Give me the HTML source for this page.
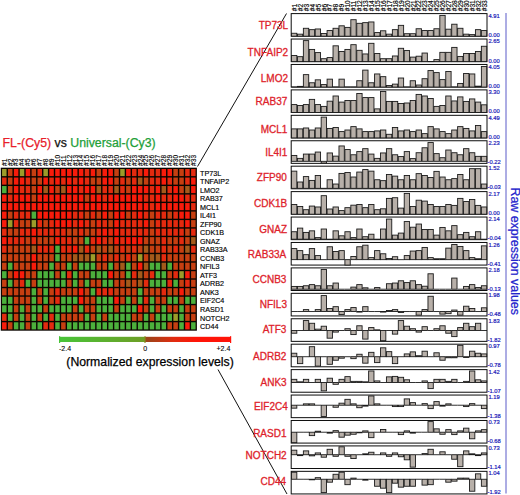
<!DOCTYPE html>
<html><head><meta charset="utf-8"><title>figure</title>
<style>html,body{margin:0;padding:0;background:#fff;}svg{display:block;}</style></head>
<body>
<svg width="520" height="495" viewBox="0 0 520 495" font-family="Liberation Sans, Arial, Helvetica, sans-serif">
<rect width="520" height="495" fill="#fff"/>
<line x1="197.5" y1="166.5" x2="286.5" y2="13.5" stroke="#111" stroke-width="1"/>
<line x1="218" y1="369.5" x2="287" y2="494" stroke="#111" stroke-width="1"/>
<rect x="0.75" y="167.70" width="196.15" height="163.00" fill="#0a0500"/>
<rect x="2.05" y="169.00" width="4.51" height="7.12" fill="#9c9c2a"/>
<rect x="7.96" y="169.00" width="4.51" height="7.12" fill="#c63f11"/>
<rect x="13.87" y="169.00" width="4.51" height="7.12" fill="#f81b0b"/>
<rect x="19.77" y="169.00" width="4.51" height="7.12" fill="#9c9c2a"/>
<rect x="25.68" y="169.00" width="4.51" height="7.12" fill="#f81b0b"/>
<rect x="31.59" y="169.00" width="4.51" height="7.12" fill="#c63f11"/>
<rect x="37.50" y="169.00" width="4.51" height="7.12" fill="#e42a0f"/>
<rect x="43.40" y="169.00" width="4.51" height="7.12" fill="#9c9c2a"/>
<rect x="49.31" y="169.00" width="4.51" height="7.12" fill="#f81b0b"/>
<rect x="55.22" y="169.00" width="4.51" height="7.12" fill="#f81b0b"/>
<rect x="61.13" y="169.00" width="4.51" height="7.12" fill="#f81b0b"/>
<rect x="67.03" y="169.00" width="4.51" height="7.12" fill="#f81b0b"/>
<rect x="72.94" y="169.00" width="4.51" height="7.12" fill="#f81b0b"/>
<rect x="78.85" y="169.00" width="4.51" height="7.12" fill="#f81b0b"/>
<rect x="84.76" y="169.00" width="4.51" height="7.12" fill="#e42a0f"/>
<rect x="90.66" y="169.00" width="4.51" height="7.12" fill="#f81b0b"/>
<rect x="96.57" y="169.00" width="4.51" height="7.12" fill="#c63f11"/>
<rect x="102.48" y="169.00" width="4.51" height="7.12" fill="#f81b0b"/>
<rect x="108.39" y="169.00" width="4.51" height="7.12" fill="#f81b0b"/>
<rect x="114.29" y="169.00" width="4.51" height="7.12" fill="#c63f11"/>
<rect x="120.20" y="169.00" width="4.51" height="7.12" fill="#9c9c2a"/>
<rect x="126.11" y="169.00" width="4.51" height="7.12" fill="#f81b0b"/>
<rect x="132.02" y="169.00" width="4.51" height="7.12" fill="#e42a0f"/>
<rect x="137.92" y="169.00" width="4.51" height="7.12" fill="#e42a0f"/>
<rect x="143.83" y="169.00" width="4.51" height="7.12" fill="#f81b0b"/>
<rect x="149.74" y="169.00" width="4.51" height="7.12" fill="#e42a0f"/>
<rect x="155.65" y="169.00" width="4.51" height="7.12" fill="#e42a0f"/>
<rect x="161.55" y="169.00" width="4.51" height="7.12" fill="#f81b0b"/>
<rect x="167.46" y="169.00" width="4.51" height="7.12" fill="#f81b0b"/>
<rect x="173.37" y="169.00" width="4.51" height="7.12" fill="#c63f11"/>
<rect x="179.28" y="169.00" width="4.51" height="7.12" fill="#c63f11"/>
<rect x="185.18" y="169.00" width="4.51" height="7.12" fill="#e42a0f"/>
<rect x="191.09" y="169.00" width="4.51" height="7.12" fill="#e42a0f"/>
<rect x="2.05" y="177.52" width="4.51" height="7.12" fill="#e42a0f"/>
<rect x="7.96" y="177.52" width="4.51" height="7.12" fill="#c63f11"/>
<rect x="13.87" y="177.52" width="4.51" height="7.12" fill="#f81b0b"/>
<rect x="19.77" y="177.52" width="4.51" height="7.12" fill="#f81b0b"/>
<rect x="25.68" y="177.52" width="4.51" height="7.12" fill="#e42a0f"/>
<rect x="31.59" y="177.52" width="4.51" height="7.12" fill="#c63f11"/>
<rect x="37.50" y="177.52" width="4.51" height="7.12" fill="#c63f11"/>
<rect x="43.40" y="177.52" width="4.51" height="7.12" fill="#f81b0b"/>
<rect x="49.31" y="177.52" width="4.51" height="7.12" fill="#e42a0f"/>
<rect x="55.22" y="177.52" width="4.51" height="7.12" fill="#f81b0b"/>
<rect x="61.13" y="177.52" width="4.51" height="7.12" fill="#e42a0f"/>
<rect x="67.03" y="177.52" width="4.51" height="7.12" fill="#f81b0b"/>
<rect x="72.94" y="177.52" width="4.51" height="7.12" fill="#e42a0f"/>
<rect x="78.85" y="177.52" width="4.51" height="7.12" fill="#f81b0b"/>
<rect x="84.76" y="177.52" width="4.51" height="7.12" fill="#e42a0f"/>
<rect x="90.66" y="177.52" width="4.51" height="7.12" fill="#c63f11"/>
<rect x="96.57" y="177.52" width="4.51" height="7.12" fill="#c63f11"/>
<rect x="102.48" y="177.52" width="4.51" height="7.12" fill="#f81b0b"/>
<rect x="108.39" y="177.52" width="4.51" height="7.12" fill="#f81b0b"/>
<rect x="114.29" y="177.52" width="4.51" height="7.12" fill="#c63f11"/>
<rect x="120.20" y="177.52" width="4.51" height="7.12" fill="#e42a0f"/>
<rect x="126.11" y="177.52" width="4.51" height="7.12" fill="#c63f11"/>
<rect x="132.02" y="177.52" width="4.51" height="7.12" fill="#e42a0f"/>
<rect x="137.92" y="177.52" width="4.51" height="7.12" fill="#a45a1b"/>
<rect x="143.83" y="177.52" width="4.51" height="7.12" fill="#c63f11"/>
<rect x="149.74" y="177.52" width="4.51" height="7.12" fill="#e42a0f"/>
<rect x="155.65" y="177.52" width="4.51" height="7.12" fill="#e42a0f"/>
<rect x="161.55" y="177.52" width="4.51" height="7.12" fill="#f81b0b"/>
<rect x="167.46" y="177.52" width="4.51" height="7.12" fill="#e42a0f"/>
<rect x="173.37" y="177.52" width="4.51" height="7.12" fill="#c63f11"/>
<rect x="179.28" y="177.52" width="4.51" height="7.12" fill="#c63f11"/>
<rect x="185.18" y="177.52" width="4.51" height="7.12" fill="#e42a0f"/>
<rect x="191.09" y="177.52" width="4.51" height="7.12" fill="#f81b0b"/>
<rect x="2.05" y="186.03" width="4.51" height="7.12" fill="#4cb03c"/>
<rect x="7.96" y="186.03" width="4.51" height="7.12" fill="#c63f11"/>
<rect x="13.87" y="186.03" width="4.51" height="7.12" fill="#f81b0b"/>
<rect x="19.77" y="186.03" width="4.51" height="7.12" fill="#e42a0f"/>
<rect x="25.68" y="186.03" width="4.51" height="7.12" fill="#e42a0f"/>
<rect x="31.59" y="186.03" width="4.51" height="7.12" fill="#c63f11"/>
<rect x="37.50" y="186.03" width="4.51" height="7.12" fill="#f81b0b"/>
<rect x="43.40" y="186.03" width="4.51" height="7.12" fill="#a45a1b"/>
<rect x="49.31" y="186.03" width="4.51" height="7.12" fill="#f81b0b"/>
<rect x="55.22" y="186.03" width="4.51" height="7.12" fill="#c63f11"/>
<rect x="61.13" y="186.03" width="4.51" height="7.12" fill="#a45a1b"/>
<rect x="67.03" y="186.03" width="4.51" height="7.12" fill="#f81b0b"/>
<rect x="72.94" y="186.03" width="4.51" height="7.12" fill="#f81b0b"/>
<rect x="78.85" y="186.03" width="4.51" height="7.12" fill="#e42a0f"/>
<rect x="84.76" y="186.03" width="4.51" height="7.12" fill="#f81b0b"/>
<rect x="90.66" y="186.03" width="4.51" height="7.12" fill="#f81b0b"/>
<rect x="96.57" y="186.03" width="4.51" height="7.12" fill="#a45a1b"/>
<rect x="102.48" y="186.03" width="4.51" height="7.12" fill="#e42a0f"/>
<rect x="108.39" y="186.03" width="4.51" height="7.12" fill="#e42a0f"/>
<rect x="114.29" y="186.03" width="4.51" height="7.12" fill="#a45a1b"/>
<rect x="120.20" y="186.03" width="4.51" height="7.12" fill="#e42a0f"/>
<rect x="126.11" y="186.03" width="4.51" height="7.12" fill="#c63f11"/>
<rect x="132.02" y="186.03" width="4.51" height="7.12" fill="#f81b0b"/>
<rect x="137.92" y="186.03" width="4.51" height="7.12" fill="#f81b0b"/>
<rect x="143.83" y="186.03" width="4.51" height="7.12" fill="#f81b0b"/>
<rect x="149.74" y="186.03" width="4.51" height="7.12" fill="#e42a0f"/>
<rect x="155.65" y="186.03" width="4.51" height="7.12" fill="#f81b0b"/>
<rect x="161.55" y="186.03" width="4.51" height="7.12" fill="#a45a1b"/>
<rect x="167.46" y="186.03" width="4.51" height="7.12" fill="#e42a0f"/>
<rect x="173.37" y="186.03" width="4.51" height="7.12" fill="#f81b0b"/>
<rect x="179.28" y="186.03" width="4.51" height="7.12" fill="#c63f11"/>
<rect x="185.18" y="186.03" width="4.51" height="7.12" fill="#a45a1b"/>
<rect x="191.09" y="186.03" width="4.51" height="7.12" fill="#f81b0b"/>
<rect x="2.05" y="194.55" width="4.51" height="7.12" fill="#f81b0b"/>
<rect x="7.96" y="194.55" width="4.51" height="7.12" fill="#e42a0f"/>
<rect x="13.87" y="194.55" width="4.51" height="7.12" fill="#f81b0b"/>
<rect x="19.77" y="194.55" width="4.51" height="7.12" fill="#f81b0b"/>
<rect x="25.68" y="194.55" width="4.51" height="7.12" fill="#f81b0b"/>
<rect x="31.59" y="194.55" width="4.51" height="7.12" fill="#c63f11"/>
<rect x="37.50" y="194.55" width="4.51" height="7.12" fill="#f81b0b"/>
<rect x="43.40" y="194.55" width="4.51" height="7.12" fill="#f81b0b"/>
<rect x="49.31" y="194.55" width="4.51" height="7.12" fill="#f81b0b"/>
<rect x="55.22" y="194.55" width="4.51" height="7.12" fill="#f81b0b"/>
<rect x="61.13" y="194.55" width="4.51" height="7.12" fill="#f81b0b"/>
<rect x="67.03" y="194.55" width="4.51" height="7.12" fill="#f81b0b"/>
<rect x="72.94" y="194.55" width="4.51" height="7.12" fill="#f81b0b"/>
<rect x="78.85" y="194.55" width="4.51" height="7.12" fill="#f81b0b"/>
<rect x="84.76" y="194.55" width="4.51" height="7.12" fill="#c63f11"/>
<rect x="90.66" y="194.55" width="4.51" height="7.12" fill="#f81b0b"/>
<rect x="96.57" y="194.55" width="4.51" height="7.12" fill="#f81b0b"/>
<rect x="102.48" y="194.55" width="4.51" height="7.12" fill="#e42a0f"/>
<rect x="108.39" y="194.55" width="4.51" height="7.12" fill="#f81b0b"/>
<rect x="114.29" y="194.55" width="4.51" height="7.12" fill="#f81b0b"/>
<rect x="120.20" y="194.55" width="4.51" height="7.12" fill="#f81b0b"/>
<rect x="126.11" y="194.55" width="4.51" height="7.12" fill="#f81b0b"/>
<rect x="132.02" y="194.55" width="4.51" height="7.12" fill="#f81b0b"/>
<rect x="137.92" y="194.55" width="4.51" height="7.12" fill="#f81b0b"/>
<rect x="143.83" y="194.55" width="4.51" height="7.12" fill="#e42a0f"/>
<rect x="149.74" y="194.55" width="4.51" height="7.12" fill="#e42a0f"/>
<rect x="155.65" y="194.55" width="4.51" height="7.12" fill="#f81b0b"/>
<rect x="161.55" y="194.55" width="4.51" height="7.12" fill="#e42a0f"/>
<rect x="167.46" y="194.55" width="4.51" height="7.12" fill="#e42a0f"/>
<rect x="173.37" y="194.55" width="4.51" height="7.12" fill="#f81b0b"/>
<rect x="179.28" y="194.55" width="4.51" height="7.12" fill="#f81b0b"/>
<rect x="185.18" y="194.55" width="4.51" height="7.12" fill="#e42a0f"/>
<rect x="191.09" y="194.55" width="4.51" height="7.12" fill="#e42a0f"/>
<rect x="2.05" y="203.06" width="4.51" height="7.12" fill="#f81b0b"/>
<rect x="7.96" y="203.06" width="4.51" height="7.12" fill="#f81b0b"/>
<rect x="13.87" y="203.06" width="4.51" height="7.12" fill="#f81b0b"/>
<rect x="19.77" y="203.06" width="4.51" height="7.12" fill="#f81b0b"/>
<rect x="25.68" y="203.06" width="4.51" height="7.12" fill="#f81b0b"/>
<rect x="31.59" y="203.06" width="4.51" height="7.12" fill="#f81b0b"/>
<rect x="37.50" y="203.06" width="4.51" height="7.12" fill="#f81b0b"/>
<rect x="43.40" y="203.06" width="4.51" height="7.12" fill="#f81b0b"/>
<rect x="49.31" y="203.06" width="4.51" height="7.12" fill="#f81b0b"/>
<rect x="55.22" y="203.06" width="4.51" height="7.12" fill="#f81b0b"/>
<rect x="61.13" y="203.06" width="4.51" height="7.12" fill="#f81b0b"/>
<rect x="67.03" y="203.06" width="4.51" height="7.12" fill="#f81b0b"/>
<rect x="72.94" y="203.06" width="4.51" height="7.12" fill="#f81b0b"/>
<rect x="78.85" y="203.06" width="4.51" height="7.12" fill="#f81b0b"/>
<rect x="84.76" y="203.06" width="4.51" height="7.12" fill="#f81b0b"/>
<rect x="90.66" y="203.06" width="4.51" height="7.12" fill="#f81b0b"/>
<rect x="96.57" y="203.06" width="4.51" height="7.12" fill="#f81b0b"/>
<rect x="102.48" y="203.06" width="4.51" height="7.12" fill="#f81b0b"/>
<rect x="108.39" y="203.06" width="4.51" height="7.12" fill="#f81b0b"/>
<rect x="114.29" y="203.06" width="4.51" height="7.12" fill="#f81b0b"/>
<rect x="120.20" y="203.06" width="4.51" height="7.12" fill="#f81b0b"/>
<rect x="126.11" y="203.06" width="4.51" height="7.12" fill="#f81b0b"/>
<rect x="132.02" y="203.06" width="4.51" height="7.12" fill="#f81b0b"/>
<rect x="137.92" y="203.06" width="4.51" height="7.12" fill="#f81b0b"/>
<rect x="143.83" y="203.06" width="4.51" height="7.12" fill="#f81b0b"/>
<rect x="149.74" y="203.06" width="4.51" height="7.12" fill="#e42a0f"/>
<rect x="155.65" y="203.06" width="4.51" height="7.12" fill="#f81b0b"/>
<rect x="161.55" y="203.06" width="4.51" height="7.12" fill="#f81b0b"/>
<rect x="167.46" y="203.06" width="4.51" height="7.12" fill="#f81b0b"/>
<rect x="173.37" y="203.06" width="4.51" height="7.12" fill="#f81b0b"/>
<rect x="179.28" y="203.06" width="4.51" height="7.12" fill="#f81b0b"/>
<rect x="185.18" y="203.06" width="4.51" height="7.12" fill="#f81b0b"/>
<rect x="191.09" y="203.06" width="4.51" height="7.12" fill="#e42a0f"/>
<rect x="2.05" y="211.58" width="4.51" height="7.12" fill="#f81b0b"/>
<rect x="7.96" y="211.58" width="4.51" height="7.12" fill="#c63f11"/>
<rect x="13.87" y="211.58" width="4.51" height="7.12" fill="#e42a0f"/>
<rect x="19.77" y="211.58" width="4.51" height="7.12" fill="#e42a0f"/>
<rect x="25.68" y="211.58" width="4.51" height="7.12" fill="#e42a0f"/>
<rect x="31.59" y="211.58" width="4.51" height="7.12" fill="#4cb03c"/>
<rect x="37.50" y="211.58" width="4.51" height="7.12" fill="#f81b0b"/>
<rect x="43.40" y="211.58" width="4.51" height="7.12" fill="#f81b0b"/>
<rect x="49.31" y="211.58" width="4.51" height="7.12" fill="#f81b0b"/>
<rect x="55.22" y="211.58" width="4.51" height="7.12" fill="#f81b0b"/>
<rect x="61.13" y="211.58" width="4.51" height="7.12" fill="#f81b0b"/>
<rect x="67.03" y="211.58" width="4.51" height="7.12" fill="#f81b0b"/>
<rect x="72.94" y="211.58" width="4.51" height="7.12" fill="#e42a0f"/>
<rect x="78.85" y="211.58" width="4.51" height="7.12" fill="#e42a0f"/>
<rect x="84.76" y="211.58" width="4.51" height="7.12" fill="#c63f11"/>
<rect x="90.66" y="211.58" width="4.51" height="7.12" fill="#e42a0f"/>
<rect x="96.57" y="211.58" width="4.51" height="7.12" fill="#c63f11"/>
<rect x="102.48" y="211.58" width="4.51" height="7.12" fill="#f81b0b"/>
<rect x="108.39" y="211.58" width="4.51" height="7.12" fill="#c63f11"/>
<rect x="114.29" y="211.58" width="4.51" height="7.12" fill="#f81b0b"/>
<rect x="120.20" y="211.58" width="4.51" height="7.12" fill="#f81b0b"/>
<rect x="126.11" y="211.58" width="4.51" height="7.12" fill="#c63f11"/>
<rect x="132.02" y="211.58" width="4.51" height="7.12" fill="#e42a0f"/>
<rect x="137.92" y="211.58" width="4.51" height="7.12" fill="#f81b0b"/>
<rect x="143.83" y="211.58" width="4.51" height="7.12" fill="#e42a0f"/>
<rect x="149.74" y="211.58" width="4.51" height="7.12" fill="#c63f11"/>
<rect x="155.65" y="211.58" width="4.51" height="7.12" fill="#e42a0f"/>
<rect x="161.55" y="211.58" width="4.51" height="7.12" fill="#e42a0f"/>
<rect x="167.46" y="211.58" width="4.51" height="7.12" fill="#c63f11"/>
<rect x="173.37" y="211.58" width="4.51" height="7.12" fill="#e42a0f"/>
<rect x="179.28" y="211.58" width="4.51" height="7.12" fill="#f81b0b"/>
<rect x="185.18" y="211.58" width="4.51" height="7.12" fill="#f81b0b"/>
<rect x="191.09" y="211.58" width="4.51" height="7.12" fill="#c63f11"/>
<rect x="2.05" y="220.09" width="4.51" height="7.12" fill="#f81b0b"/>
<rect x="7.96" y="220.09" width="4.51" height="7.12" fill="#9c9c2a"/>
<rect x="13.87" y="220.09" width="4.51" height="7.12" fill="#e42a0f"/>
<rect x="19.77" y="220.09" width="4.51" height="7.12" fill="#c63f11"/>
<rect x="25.68" y="220.09" width="4.51" height="7.12" fill="#c63f11"/>
<rect x="31.59" y="220.09" width="4.51" height="7.12" fill="#9c9c2a"/>
<rect x="37.50" y="220.09" width="4.51" height="7.12" fill="#e42a0f"/>
<rect x="43.40" y="220.09" width="4.51" height="7.12" fill="#c63f11"/>
<rect x="49.31" y="220.09" width="4.51" height="7.12" fill="#e42a0f"/>
<rect x="55.22" y="220.09" width="4.51" height="7.12" fill="#f81b0b"/>
<rect x="61.13" y="220.09" width="4.51" height="7.12" fill="#f81b0b"/>
<rect x="67.03" y="220.09" width="4.51" height="7.12" fill="#f81b0b"/>
<rect x="72.94" y="220.09" width="4.51" height="7.12" fill="#e42a0f"/>
<rect x="78.85" y="220.09" width="4.51" height="7.12" fill="#f81b0b"/>
<rect x="84.76" y="220.09" width="4.51" height="7.12" fill="#e42a0f"/>
<rect x="90.66" y="220.09" width="4.51" height="7.12" fill="#c63f11"/>
<rect x="96.57" y="220.09" width="4.51" height="7.12" fill="#e42a0f"/>
<rect x="102.48" y="220.09" width="4.51" height="7.12" fill="#e42a0f"/>
<rect x="108.39" y="220.09" width="4.51" height="7.12" fill="#c63f11"/>
<rect x="114.29" y="220.09" width="4.51" height="7.12" fill="#f81b0b"/>
<rect x="120.20" y="220.09" width="4.51" height="7.12" fill="#e42a0f"/>
<rect x="126.11" y="220.09" width="4.51" height="7.12" fill="#e42a0f"/>
<rect x="132.02" y="220.09" width="4.51" height="7.12" fill="#e42a0f"/>
<rect x="137.92" y="220.09" width="4.51" height="7.12" fill="#e42a0f"/>
<rect x="143.83" y="220.09" width="4.51" height="7.12" fill="#f81b0b"/>
<rect x="149.74" y="220.09" width="4.51" height="7.12" fill="#c63f11"/>
<rect x="155.65" y="220.09" width="4.51" height="7.12" fill="#e42a0f"/>
<rect x="161.55" y="220.09" width="4.51" height="7.12" fill="#e42a0f"/>
<rect x="167.46" y="220.09" width="4.51" height="7.12" fill="#e42a0f"/>
<rect x="173.37" y="220.09" width="4.51" height="7.12" fill="#e42a0f"/>
<rect x="179.28" y="220.09" width="4.51" height="7.12" fill="#e42a0f"/>
<rect x="185.18" y="220.09" width="4.51" height="7.12" fill="#f81b0b"/>
<rect x="191.09" y="220.09" width="4.51" height="7.12" fill="#c63f11"/>
<rect x="2.05" y="228.61" width="4.51" height="7.12" fill="#e42a0f"/>
<rect x="7.96" y="228.61" width="4.51" height="7.12" fill="#c63f11"/>
<rect x="13.87" y="228.61" width="4.51" height="7.12" fill="#c63f11"/>
<rect x="19.77" y="228.61" width="4.51" height="7.12" fill="#e42a0f"/>
<rect x="25.68" y="228.61" width="4.51" height="7.12" fill="#e42a0f"/>
<rect x="31.59" y="228.61" width="4.51" height="7.12" fill="#f81b0b"/>
<rect x="37.50" y="228.61" width="4.51" height="7.12" fill="#e42a0f"/>
<rect x="43.40" y="228.61" width="4.51" height="7.12" fill="#e42a0f"/>
<rect x="49.31" y="228.61" width="4.51" height="7.12" fill="#e42a0f"/>
<rect x="55.22" y="228.61" width="4.51" height="7.12" fill="#e42a0f"/>
<rect x="61.13" y="228.61" width="4.51" height="7.12" fill="#e42a0f"/>
<rect x="67.03" y="228.61" width="4.51" height="7.12" fill="#c63f11"/>
<rect x="72.94" y="228.61" width="4.51" height="7.12" fill="#c63f11"/>
<rect x="78.85" y="228.61" width="4.51" height="7.12" fill="#e42a0f"/>
<rect x="84.76" y="228.61" width="4.51" height="7.12" fill="#c63f11"/>
<rect x="90.66" y="228.61" width="4.51" height="7.12" fill="#c63f11"/>
<rect x="96.57" y="228.61" width="4.51" height="7.12" fill="#e42a0f"/>
<rect x="102.48" y="228.61" width="4.51" height="7.12" fill="#f81b0b"/>
<rect x="108.39" y="228.61" width="4.51" height="7.12" fill="#e42a0f"/>
<rect x="114.29" y="228.61" width="4.51" height="7.12" fill="#f81b0b"/>
<rect x="120.20" y="228.61" width="4.51" height="7.12" fill="#e42a0f"/>
<rect x="126.11" y="228.61" width="4.51" height="7.12" fill="#e42a0f"/>
<rect x="132.02" y="228.61" width="4.51" height="7.12" fill="#e42a0f"/>
<rect x="137.92" y="228.61" width="4.51" height="7.12" fill="#e42a0f"/>
<rect x="143.83" y="228.61" width="4.51" height="7.12" fill="#e42a0f"/>
<rect x="149.74" y="228.61" width="4.51" height="7.12" fill="#c63f11"/>
<rect x="155.65" y="228.61" width="4.51" height="7.12" fill="#e42a0f"/>
<rect x="161.55" y="228.61" width="4.51" height="7.12" fill="#e42a0f"/>
<rect x="167.46" y="228.61" width="4.51" height="7.12" fill="#e42a0f"/>
<rect x="173.37" y="228.61" width="4.51" height="7.12" fill="#e42a0f"/>
<rect x="179.28" y="228.61" width="4.51" height="7.12" fill="#e42a0f"/>
<rect x="185.18" y="228.61" width="4.51" height="7.12" fill="#c63f11"/>
<rect x="191.09" y="228.61" width="4.51" height="7.12" fill="#e42a0f"/>
<rect x="2.05" y="237.13" width="4.51" height="7.12" fill="#f81b0b"/>
<rect x="7.96" y="237.13" width="4.51" height="7.12" fill="#e42a0f"/>
<rect x="13.87" y="237.13" width="4.51" height="7.12" fill="#e42a0f"/>
<rect x="19.77" y="237.13" width="4.51" height="7.12" fill="#e42a0f"/>
<rect x="25.68" y="237.13" width="4.51" height="7.12" fill="#c63f11"/>
<rect x="31.59" y="237.13" width="4.51" height="7.12" fill="#e42a0f"/>
<rect x="37.50" y="237.13" width="4.51" height="7.12" fill="#c63f11"/>
<rect x="43.40" y="237.13" width="4.51" height="7.12" fill="#c63f11"/>
<rect x="49.31" y="237.13" width="4.51" height="7.12" fill="#c63f11"/>
<rect x="55.22" y="237.13" width="4.51" height="7.12" fill="#f81b0b"/>
<rect x="61.13" y="237.13" width="4.51" height="7.12" fill="#e42a0f"/>
<rect x="67.03" y="237.13" width="4.51" height="7.12" fill="#e42a0f"/>
<rect x="72.94" y="237.13" width="4.51" height="7.12" fill="#c63f11"/>
<rect x="78.85" y="237.13" width="4.51" height="7.12" fill="#c63f11"/>
<rect x="84.76" y="237.13" width="4.51" height="7.12" fill="#4cb03c"/>
<rect x="90.66" y="237.13" width="4.51" height="7.12" fill="#e42a0f"/>
<rect x="96.57" y="237.13" width="4.51" height="7.12" fill="#f81b0b"/>
<rect x="102.48" y="237.13" width="4.51" height="7.12" fill="#e42a0f"/>
<rect x="108.39" y="237.13" width="4.51" height="7.12" fill="#c63f11"/>
<rect x="114.29" y="237.13" width="4.51" height="7.12" fill="#f81b0b"/>
<rect x="120.20" y="237.13" width="4.51" height="7.12" fill="#e42a0f"/>
<rect x="126.11" y="237.13" width="4.51" height="7.12" fill="#f81b0b"/>
<rect x="132.02" y="237.13" width="4.51" height="7.12" fill="#f81b0b"/>
<rect x="137.92" y="237.13" width="4.51" height="7.12" fill="#f81b0b"/>
<rect x="143.83" y="237.13" width="4.51" height="7.12" fill="#c63f11"/>
<rect x="149.74" y="237.13" width="4.51" height="7.12" fill="#c63f11"/>
<rect x="155.65" y="237.13" width="4.51" height="7.12" fill="#c63f11"/>
<rect x="161.55" y="237.13" width="4.51" height="7.12" fill="#e42a0f"/>
<rect x="167.46" y="237.13" width="4.51" height="7.12" fill="#c63f11"/>
<rect x="173.37" y="237.13" width="4.51" height="7.12" fill="#c63f11"/>
<rect x="179.28" y="237.13" width="4.51" height="7.12" fill="#e42a0f"/>
<rect x="185.18" y="237.13" width="4.51" height="7.12" fill="#c63f11"/>
<rect x="191.09" y="237.13" width="4.51" height="7.12" fill="#a45a1b"/>
<rect x="2.05" y="245.64" width="4.51" height="7.12" fill="#e42a0f"/>
<rect x="7.96" y="245.64" width="4.51" height="7.12" fill="#c63f11"/>
<rect x="13.87" y="245.64" width="4.51" height="7.12" fill="#c63f11"/>
<rect x="19.77" y="245.64" width="4.51" height="7.12" fill="#c63f11"/>
<rect x="25.68" y="245.64" width="4.51" height="7.12" fill="#c63f11"/>
<rect x="31.59" y="245.64" width="4.51" height="7.12" fill="#a45a1b"/>
<rect x="37.50" y="245.64" width="4.51" height="7.12" fill="#e42a0f"/>
<rect x="43.40" y="245.64" width="4.51" height="7.12" fill="#e42a0f"/>
<rect x="49.31" y="245.64" width="4.51" height="7.12" fill="#e42a0f"/>
<rect x="55.22" y="245.64" width="4.51" height="7.12" fill="#4cb03c"/>
<rect x="61.13" y="245.64" width="4.51" height="7.12" fill="#e42a0f"/>
<rect x="67.03" y="245.64" width="4.51" height="7.12" fill="#e42a0f"/>
<rect x="72.94" y="245.64" width="4.51" height="7.12" fill="#f81b0b"/>
<rect x="78.85" y="245.64" width="4.51" height="7.12" fill="#a45a1b"/>
<rect x="84.76" y="245.64" width="4.51" height="7.12" fill="#e42a0f"/>
<rect x="90.66" y="245.64" width="4.51" height="7.12" fill="#c63f11"/>
<rect x="96.57" y="245.64" width="4.51" height="7.12" fill="#a45a1b"/>
<rect x="102.48" y="245.64" width="4.51" height="7.12" fill="#c63f11"/>
<rect x="108.39" y="245.64" width="4.51" height="7.12" fill="#a45a1b"/>
<rect x="114.29" y="245.64" width="4.51" height="7.12" fill="#c63f11"/>
<rect x="120.20" y="245.64" width="4.51" height="7.12" fill="#e42a0f"/>
<rect x="126.11" y="245.64" width="4.51" height="7.12" fill="#c63f11"/>
<rect x="132.02" y="245.64" width="4.51" height="7.12" fill="#e42a0f"/>
<rect x="137.92" y="245.64" width="4.51" height="7.12" fill="#c63f11"/>
<rect x="143.83" y="245.64" width="4.51" height="7.12" fill="#a45a1b"/>
<rect x="149.74" y="245.64" width="4.51" height="7.12" fill="#c63f11"/>
<rect x="155.65" y="245.64" width="4.51" height="7.12" fill="#c63f11"/>
<rect x="161.55" y="245.64" width="4.51" height="7.12" fill="#e42a0f"/>
<rect x="167.46" y="245.64" width="4.51" height="7.12" fill="#c63f11"/>
<rect x="173.37" y="245.64" width="4.51" height="7.12" fill="#e42a0f"/>
<rect x="179.28" y="245.64" width="4.51" height="7.12" fill="#c63f11"/>
<rect x="185.18" y="245.64" width="4.51" height="7.12" fill="#a45a1b"/>
<rect x="191.09" y="245.64" width="4.51" height="7.12" fill="#e42a0f"/>
<rect x="2.05" y="254.16" width="4.51" height="7.12" fill="#c63f11"/>
<rect x="7.96" y="254.16" width="4.51" height="7.12" fill="#c63f11"/>
<rect x="13.87" y="254.16" width="4.51" height="7.12" fill="#c63f11"/>
<rect x="19.77" y="254.16" width="4.51" height="7.12" fill="#c63f11"/>
<rect x="25.68" y="254.16" width="4.51" height="7.12" fill="#c63f11"/>
<rect x="31.59" y="254.16" width="4.51" height="7.12" fill="#f81b0b"/>
<rect x="37.50" y="254.16" width="4.51" height="7.12" fill="#c63f11"/>
<rect x="43.40" y="254.16" width="4.51" height="7.12" fill="#c63f11"/>
<rect x="49.31" y="254.16" width="4.51" height="7.12" fill="#c63f11"/>
<rect x="55.22" y="254.16" width="4.51" height="7.12" fill="#4cb03c"/>
<rect x="61.13" y="254.16" width="4.51" height="7.12" fill="#c63f11"/>
<rect x="67.03" y="254.16" width="4.51" height="7.12" fill="#c63f11"/>
<rect x="72.94" y="254.16" width="4.51" height="7.12" fill="#a45a1b"/>
<rect x="78.85" y="254.16" width="4.51" height="7.12" fill="#a45a1b"/>
<rect x="84.76" y="254.16" width="4.51" height="7.12" fill="#a45a1b"/>
<rect x="90.66" y="254.16" width="4.51" height="7.12" fill="#9c9c2a"/>
<rect x="96.57" y="254.16" width="4.51" height="7.12" fill="#c63f11"/>
<rect x="102.48" y="254.16" width="4.51" height="7.12" fill="#e42a0f"/>
<rect x="108.39" y="254.16" width="4.51" height="7.12" fill="#c63f11"/>
<rect x="114.29" y="254.16" width="4.51" height="7.12" fill="#e42a0f"/>
<rect x="120.20" y="254.16" width="4.51" height="7.12" fill="#c63f11"/>
<rect x="126.11" y="254.16" width="4.51" height="7.12" fill="#e42a0f"/>
<rect x="132.02" y="254.16" width="4.51" height="7.12" fill="#c63f11"/>
<rect x="137.92" y="254.16" width="4.51" height="7.12" fill="#9c9c2a"/>
<rect x="143.83" y="254.16" width="4.51" height="7.12" fill="#c63f11"/>
<rect x="149.74" y="254.16" width="4.51" height="7.12" fill="#a45a1b"/>
<rect x="155.65" y="254.16" width="4.51" height="7.12" fill="#a45a1b"/>
<rect x="161.55" y="254.16" width="4.51" height="7.12" fill="#e42a0f"/>
<rect x="167.46" y="254.16" width="4.51" height="7.12" fill="#c63f11"/>
<rect x="173.37" y="254.16" width="4.51" height="7.12" fill="#c63f11"/>
<rect x="179.28" y="254.16" width="4.51" height="7.12" fill="#c63f11"/>
<rect x="185.18" y="254.16" width="4.51" height="7.12" fill="#c63f11"/>
<rect x="191.09" y="254.16" width="4.51" height="7.12" fill="#c63f11"/>
<rect x="2.05" y="262.67" width="4.51" height="7.12" fill="#c63f11"/>
<rect x="7.96" y="262.67" width="4.51" height="7.12" fill="#4cb03c"/>
<rect x="13.87" y="262.67" width="4.51" height="7.12" fill="#c63f11"/>
<rect x="19.77" y="262.67" width="4.51" height="7.12" fill="#c63f11"/>
<rect x="25.68" y="262.67" width="4.51" height="7.12" fill="#c63f11"/>
<rect x="31.59" y="262.67" width="4.51" height="7.12" fill="#f81b0b"/>
<rect x="37.50" y="262.67" width="4.51" height="7.12" fill="#c63f11"/>
<rect x="43.40" y="262.67" width="4.51" height="7.12" fill="#c63f11"/>
<rect x="49.31" y="262.67" width="4.51" height="7.12" fill="#4cb03c"/>
<rect x="55.22" y="262.67" width="4.51" height="7.12" fill="#c63f11"/>
<rect x="61.13" y="262.67" width="4.51" height="7.12" fill="#c63f11"/>
<rect x="67.03" y="262.67" width="4.51" height="7.12" fill="#4cb03c"/>
<rect x="72.94" y="262.67" width="4.51" height="7.12" fill="#c63f11"/>
<rect x="78.85" y="262.67" width="4.51" height="7.12" fill="#4cb03c"/>
<rect x="84.76" y="262.67" width="4.51" height="7.12" fill="#4cb03c"/>
<rect x="90.66" y="262.67" width="4.51" height="7.12" fill="#4cb03c"/>
<rect x="96.57" y="262.67" width="4.51" height="7.12" fill="#c63f11"/>
<rect x="102.48" y="262.67" width="4.51" height="7.12" fill="#c63f11"/>
<rect x="108.39" y="262.67" width="4.51" height="7.12" fill="#4cb03c"/>
<rect x="114.29" y="262.67" width="4.51" height="7.12" fill="#c63f11"/>
<rect x="120.20" y="262.67" width="4.51" height="7.12" fill="#a45a1b"/>
<rect x="126.11" y="262.67" width="4.51" height="7.12" fill="#4cb03c"/>
<rect x="132.02" y="262.67" width="4.51" height="7.12" fill="#c63f11"/>
<rect x="137.92" y="262.67" width="4.51" height="7.12" fill="#f81b0b"/>
<rect x="143.83" y="262.67" width="4.51" height="7.12" fill="#a45a1b"/>
<rect x="149.74" y="262.67" width="4.51" height="7.12" fill="#4cb03c"/>
<rect x="155.65" y="262.67" width="4.51" height="7.12" fill="#4cb03c"/>
<rect x="161.55" y="262.67" width="4.51" height="7.12" fill="#a45a1b"/>
<rect x="167.46" y="262.67" width="4.51" height="7.12" fill="#4cb03c"/>
<rect x="173.37" y="262.67" width="4.51" height="7.12" fill="#c63f11"/>
<rect x="179.28" y="262.67" width="4.51" height="7.12" fill="#c63f11"/>
<rect x="185.18" y="262.67" width="4.51" height="7.12" fill="#c63f11"/>
<rect x="191.09" y="262.67" width="4.51" height="7.12" fill="#c63f11"/>
<rect x="2.05" y="271.19" width="4.51" height="7.12" fill="#4cb03c"/>
<rect x="7.96" y="271.19" width="4.51" height="7.12" fill="#c63f11"/>
<rect x="13.87" y="271.19" width="4.51" height="7.12" fill="#f81b0b"/>
<rect x="19.77" y="271.19" width="4.51" height="7.12" fill="#f81b0b"/>
<rect x="25.68" y="271.19" width="4.51" height="7.12" fill="#c63f11"/>
<rect x="31.59" y="271.19" width="4.51" height="7.12" fill="#c63f11"/>
<rect x="37.50" y="271.19" width="4.51" height="7.12" fill="#4cb03c"/>
<rect x="43.40" y="271.19" width="4.51" height="7.12" fill="#4cb03c"/>
<rect x="49.31" y="271.19" width="4.51" height="7.12" fill="#4cb03c"/>
<rect x="55.22" y="271.19" width="4.51" height="7.12" fill="#c63f11"/>
<rect x="61.13" y="271.19" width="4.51" height="7.12" fill="#4cb03c"/>
<rect x="67.03" y="271.19" width="4.51" height="7.12" fill="#e42a0f"/>
<rect x="72.94" y="271.19" width="4.51" height="7.12" fill="#4cb03c"/>
<rect x="78.85" y="271.19" width="4.51" height="7.12" fill="#c63f11"/>
<rect x="84.76" y="271.19" width="4.51" height="7.12" fill="#c63f11"/>
<rect x="90.66" y="271.19" width="4.51" height="7.12" fill="#4cb03c"/>
<rect x="96.57" y="271.19" width="4.51" height="7.12" fill="#4cb03c"/>
<rect x="102.48" y="271.19" width="4.51" height="7.12" fill="#4cb03c"/>
<rect x="108.39" y="271.19" width="4.51" height="7.12" fill="#f81b0b"/>
<rect x="114.29" y="271.19" width="4.51" height="7.12" fill="#c63f11"/>
<rect x="120.20" y="271.19" width="4.51" height="7.12" fill="#c63f11"/>
<rect x="126.11" y="271.19" width="4.51" height="7.12" fill="#4cb03c"/>
<rect x="132.02" y="271.19" width="4.51" height="7.12" fill="#e42a0f"/>
<rect x="137.92" y="271.19" width="4.51" height="7.12" fill="#a45a1b"/>
<rect x="143.83" y="271.19" width="4.51" height="7.12" fill="#c63f11"/>
<rect x="149.74" y="271.19" width="4.51" height="7.12" fill="#e42a0f"/>
<rect x="155.65" y="271.19" width="4.51" height="7.12" fill="#4cb03c"/>
<rect x="161.55" y="271.19" width="4.51" height="7.12" fill="#4cb03c"/>
<rect x="167.46" y="271.19" width="4.51" height="7.12" fill="#c63f11"/>
<rect x="173.37" y="271.19" width="4.51" height="7.12" fill="#e42a0f"/>
<rect x="179.28" y="271.19" width="4.51" height="7.12" fill="#9c9c2a"/>
<rect x="185.18" y="271.19" width="4.51" height="7.12" fill="#f81b0b"/>
<rect x="191.09" y="271.19" width="4.51" height="7.12" fill="#c63f11"/>
<rect x="2.05" y="279.71" width="4.51" height="7.12" fill="#c63f11"/>
<rect x="7.96" y="279.71" width="4.51" height="7.12" fill="#4cb03c"/>
<rect x="13.87" y="279.71" width="4.51" height="7.12" fill="#c63f11"/>
<rect x="19.77" y="279.71" width="4.51" height="7.12" fill="#e42a0f"/>
<rect x="25.68" y="279.71" width="4.51" height="7.12" fill="#4cb03c"/>
<rect x="31.59" y="279.71" width="4.51" height="7.12" fill="#c63f11"/>
<rect x="37.50" y="279.71" width="4.51" height="7.12" fill="#4cb03c"/>
<rect x="43.40" y="279.71" width="4.51" height="7.12" fill="#4cb03c"/>
<rect x="49.31" y="279.71" width="4.51" height="7.12" fill="#4cb03c"/>
<rect x="55.22" y="279.71" width="4.51" height="7.12" fill="#4cb03c"/>
<rect x="61.13" y="279.71" width="4.51" height="7.12" fill="#4cb03c"/>
<rect x="67.03" y="279.71" width="4.51" height="7.12" fill="#c63f11"/>
<rect x="72.94" y="279.71" width="4.51" height="7.12" fill="#4cb03c"/>
<rect x="78.85" y="279.71" width="4.51" height="7.12" fill="#c63f11"/>
<rect x="84.76" y="279.71" width="4.51" height="7.12" fill="#4cb03c"/>
<rect x="90.66" y="279.71" width="4.51" height="7.12" fill="#c63f11"/>
<rect x="96.57" y="279.71" width="4.51" height="7.12" fill="#c63f11"/>
<rect x="102.48" y="279.71" width="4.51" height="7.12" fill="#4cb03c"/>
<rect x="108.39" y="279.71" width="4.51" height="7.12" fill="#4cb03c"/>
<rect x="114.29" y="279.71" width="4.51" height="7.12" fill="#c63f11"/>
<rect x="120.20" y="279.71" width="4.51" height="7.12" fill="#c63f11"/>
<rect x="126.11" y="279.71" width="4.51" height="7.12" fill="#a45a1b"/>
<rect x="132.02" y="279.71" width="4.51" height="7.12" fill="#c63f11"/>
<rect x="137.92" y="279.71" width="4.51" height="7.12" fill="#a45a1b"/>
<rect x="143.83" y="279.71" width="4.51" height="7.12" fill="#e42a0f"/>
<rect x="149.74" y="279.71" width="4.51" height="7.12" fill="#4cb03c"/>
<rect x="155.65" y="279.71" width="4.51" height="7.12" fill="#4cb03c"/>
<rect x="161.55" y="279.71" width="4.51" height="7.12" fill="#4cb03c"/>
<rect x="167.46" y="279.71" width="4.51" height="7.12" fill="#e42a0f"/>
<rect x="173.37" y="279.71" width="4.51" height="7.12" fill="#4cb03c"/>
<rect x="179.28" y="279.71" width="4.51" height="7.12" fill="#c63f11"/>
<rect x="185.18" y="279.71" width="4.51" height="7.12" fill="#e42a0f"/>
<rect x="191.09" y="279.71" width="4.51" height="7.12" fill="#c63f11"/>
<rect x="2.05" y="288.22" width="4.51" height="7.12" fill="#c63f11"/>
<rect x="7.96" y="288.22" width="4.51" height="7.12" fill="#c63f11"/>
<rect x="13.87" y="288.22" width="4.51" height="7.12" fill="#c63f11"/>
<rect x="19.77" y="288.22" width="4.51" height="7.12" fill="#c63f11"/>
<rect x="25.68" y="288.22" width="4.51" height="7.12" fill="#c63f11"/>
<rect x="31.59" y="288.22" width="4.51" height="7.12" fill="#4cb03c"/>
<rect x="37.50" y="288.22" width="4.51" height="7.12" fill="#c63f11"/>
<rect x="43.40" y="288.22" width="4.51" height="7.12" fill="#4cb03c"/>
<rect x="49.31" y="288.22" width="4.51" height="7.12" fill="#c63f11"/>
<rect x="55.22" y="288.22" width="4.51" height="7.12" fill="#e42a0f"/>
<rect x="61.13" y="288.22" width="4.51" height="7.12" fill="#c63f11"/>
<rect x="67.03" y="288.22" width="4.51" height="7.12" fill="#c63f11"/>
<rect x="72.94" y="288.22" width="4.51" height="7.12" fill="#c63f11"/>
<rect x="78.85" y="288.22" width="4.51" height="7.12" fill="#f81b0b"/>
<rect x="84.76" y="288.22" width="4.51" height="7.12" fill="#c63f11"/>
<rect x="90.66" y="288.22" width="4.51" height="7.12" fill="#4cb03c"/>
<rect x="96.57" y="288.22" width="4.51" height="7.12" fill="#e42a0f"/>
<rect x="102.48" y="288.22" width="4.51" height="7.12" fill="#e42a0f"/>
<rect x="108.39" y="288.22" width="4.51" height="7.12" fill="#e42a0f"/>
<rect x="114.29" y="288.22" width="4.51" height="7.12" fill="#c63f11"/>
<rect x="120.20" y="288.22" width="4.51" height="7.12" fill="#c63f11"/>
<rect x="126.11" y="288.22" width="4.51" height="7.12" fill="#c63f11"/>
<rect x="132.02" y="288.22" width="4.51" height="7.12" fill="#c63f11"/>
<rect x="137.92" y="288.22" width="4.51" height="7.12" fill="#4cb03c"/>
<rect x="143.83" y="288.22" width="4.51" height="7.12" fill="#c63f11"/>
<rect x="149.74" y="288.22" width="4.51" height="7.12" fill="#c63f11"/>
<rect x="155.65" y="288.22" width="4.51" height="7.12" fill="#c63f11"/>
<rect x="161.55" y="288.22" width="4.51" height="7.12" fill="#e42a0f"/>
<rect x="167.46" y="288.22" width="4.51" height="7.12" fill="#c63f11"/>
<rect x="173.37" y="288.22" width="4.51" height="7.12" fill="#c63f11"/>
<rect x="179.28" y="288.22" width="4.51" height="7.12" fill="#f81b0b"/>
<rect x="185.18" y="288.22" width="4.51" height="7.12" fill="#c63f11"/>
<rect x="191.09" y="288.22" width="4.51" height="7.12" fill="#c63f11"/>
<rect x="2.05" y="296.74" width="4.51" height="7.12" fill="#4cb03c"/>
<rect x="7.96" y="296.74" width="4.51" height="7.12" fill="#4cb03c"/>
<rect x="13.87" y="296.74" width="4.51" height="7.12" fill="#c63f11"/>
<rect x="19.77" y="296.74" width="4.51" height="7.12" fill="#c63f11"/>
<rect x="25.68" y="296.74" width="4.51" height="7.12" fill="#c63f11"/>
<rect x="31.59" y="296.74" width="4.51" height="7.12" fill="#4cb03c"/>
<rect x="37.50" y="296.74" width="4.51" height="7.12" fill="#c63f11"/>
<rect x="43.40" y="296.74" width="4.51" height="7.12" fill="#4cb03c"/>
<rect x="49.31" y="296.74" width="4.51" height="7.12" fill="#c63f11"/>
<rect x="55.22" y="296.74" width="4.51" height="7.12" fill="#e42a0f"/>
<rect x="61.13" y="296.74" width="4.51" height="7.12" fill="#4cb03c"/>
<rect x="67.03" y="296.74" width="4.51" height="7.12" fill="#4cb03c"/>
<rect x="72.94" y="296.74" width="4.51" height="7.12" fill="#4cb03c"/>
<rect x="78.85" y="296.74" width="4.51" height="7.12" fill="#f81b0b"/>
<rect x="84.76" y="296.74" width="4.51" height="7.12" fill="#c63f11"/>
<rect x="90.66" y="296.74" width="4.51" height="7.12" fill="#c63f11"/>
<rect x="96.57" y="296.74" width="4.51" height="7.12" fill="#4cb03c"/>
<rect x="102.48" y="296.74" width="4.51" height="7.12" fill="#4cb03c"/>
<rect x="108.39" y="296.74" width="4.51" height="7.12" fill="#4cb03c"/>
<rect x="114.29" y="296.74" width="4.51" height="7.12" fill="#f81b0b"/>
<rect x="120.20" y="296.74" width="4.51" height="7.12" fill="#c63f11"/>
<rect x="126.11" y="296.74" width="4.51" height="7.12" fill="#4cb03c"/>
<rect x="132.02" y="296.74" width="4.51" height="7.12" fill="#c63f11"/>
<rect x="137.92" y="296.74" width="4.51" height="7.12" fill="#4cb03c"/>
<rect x="143.83" y="296.74" width="4.51" height="7.12" fill="#e42a0f"/>
<rect x="149.74" y="296.74" width="4.51" height="7.12" fill="#4cb03c"/>
<rect x="155.65" y="296.74" width="4.51" height="7.12" fill="#c63f11"/>
<rect x="161.55" y="296.74" width="4.51" height="7.12" fill="#c63f11"/>
<rect x="167.46" y="296.74" width="4.51" height="7.12" fill="#4cb03c"/>
<rect x="173.37" y="296.74" width="4.51" height="7.12" fill="#4cb03c"/>
<rect x="179.28" y="296.74" width="4.51" height="7.12" fill="#c63f11"/>
<rect x="185.18" y="296.74" width="4.51" height="7.12" fill="#4cb03c"/>
<rect x="191.09" y="296.74" width="4.51" height="7.12" fill="#4cb03c"/>
<rect x="2.05" y="305.25" width="4.51" height="7.12" fill="#4cb03c"/>
<rect x="7.96" y="305.25" width="4.51" height="7.12" fill="#4cb03c"/>
<rect x="13.87" y="305.25" width="4.51" height="7.12" fill="#c63f11"/>
<rect x="19.77" y="305.25" width="4.51" height="7.12" fill="#4cb03c"/>
<rect x="25.68" y="305.25" width="4.51" height="7.12" fill="#c63f11"/>
<rect x="31.59" y="305.25" width="4.51" height="7.12" fill="#4cb03c"/>
<rect x="37.50" y="305.25" width="4.51" height="7.12" fill="#4cb03c"/>
<rect x="43.40" y="305.25" width="4.51" height="7.12" fill="#c63f11"/>
<rect x="49.31" y="305.25" width="4.51" height="7.12" fill="#4cb03c"/>
<rect x="55.22" y="305.25" width="4.51" height="7.12" fill="#4cb03c"/>
<rect x="61.13" y="305.25" width="4.51" height="7.12" fill="#4cb03c"/>
<rect x="67.03" y="305.25" width="4.51" height="7.12" fill="#4cb03c"/>
<rect x="72.94" y="305.25" width="4.51" height="7.12" fill="#c63f11"/>
<rect x="78.85" y="305.25" width="4.51" height="7.12" fill="#4cb03c"/>
<rect x="84.76" y="305.25" width="4.51" height="7.12" fill="#c63f11"/>
<rect x="90.66" y="305.25" width="4.51" height="7.12" fill="#c63f11"/>
<rect x="96.57" y="305.25" width="4.51" height="7.12" fill="#4cb03c"/>
<rect x="102.48" y="305.25" width="4.51" height="7.12" fill="#4cb03c"/>
<rect x="108.39" y="305.25" width="4.51" height="7.12" fill="#4cb03c"/>
<rect x="114.29" y="305.25" width="4.51" height="7.12" fill="#c63f11"/>
<rect x="120.20" y="305.25" width="4.51" height="7.12" fill="#4cb03c"/>
<rect x="126.11" y="305.25" width="4.51" height="7.12" fill="#4cb03c"/>
<rect x="132.02" y="305.25" width="4.51" height="7.12" fill="#4cb03c"/>
<rect x="137.92" y="305.25" width="4.51" height="7.12" fill="#f81b0b"/>
<rect x="143.83" y="305.25" width="4.51" height="7.12" fill="#c63f11"/>
<rect x="149.74" y="305.25" width="4.51" height="7.12" fill="#4cb03c"/>
<rect x="155.65" y="305.25" width="4.51" height="7.12" fill="#c63f11"/>
<rect x="161.55" y="305.25" width="4.51" height="7.12" fill="#4cb03c"/>
<rect x="167.46" y="305.25" width="4.51" height="7.12" fill="#c63f11"/>
<rect x="173.37" y="305.25" width="4.51" height="7.12" fill="#c63f11"/>
<rect x="179.28" y="305.25" width="4.51" height="7.12" fill="#4cb03c"/>
<rect x="185.18" y="305.25" width="4.51" height="7.12" fill="#c63f11"/>
<rect x="191.09" y="305.25" width="4.51" height="7.12" fill="#c63f11"/>
<rect x="2.05" y="313.77" width="4.51" height="7.12" fill="#e42a0f"/>
<rect x="7.96" y="313.77" width="4.51" height="7.12" fill="#4cb03c"/>
<rect x="13.87" y="313.77" width="4.51" height="7.12" fill="#c63f11"/>
<rect x="19.77" y="313.77" width="4.51" height="7.12" fill="#4cb03c"/>
<rect x="25.68" y="313.77" width="4.51" height="7.12" fill="#c63f11"/>
<rect x="31.59" y="313.77" width="4.51" height="7.12" fill="#4cb03c"/>
<rect x="37.50" y="313.77" width="4.51" height="7.12" fill="#c63f11"/>
<rect x="43.40" y="313.77" width="4.51" height="7.12" fill="#4cb03c"/>
<rect x="49.31" y="313.77" width="4.51" height="7.12" fill="#e42a0f"/>
<rect x="55.22" y="313.77" width="4.51" height="7.12" fill="#4cb03c"/>
<rect x="61.13" y="313.77" width="4.51" height="7.12" fill="#c63f11"/>
<rect x="67.03" y="313.77" width="4.51" height="7.12" fill="#c63f11"/>
<rect x="72.94" y="313.77" width="4.51" height="7.12" fill="#c63f11"/>
<rect x="78.85" y="313.77" width="4.51" height="7.12" fill="#c63f11"/>
<rect x="84.76" y="313.77" width="4.51" height="7.12" fill="#4cb03c"/>
<rect x="90.66" y="313.77" width="4.51" height="7.12" fill="#c63f11"/>
<rect x="96.57" y="313.77" width="4.51" height="7.12" fill="#4cb03c"/>
<rect x="102.48" y="313.77" width="4.51" height="7.12" fill="#c63f11"/>
<rect x="108.39" y="313.77" width="4.51" height="7.12" fill="#4cb03c"/>
<rect x="114.29" y="313.77" width="4.51" height="7.12" fill="#4cb03c"/>
<rect x="120.20" y="313.77" width="4.51" height="7.12" fill="#4cb03c"/>
<rect x="126.11" y="313.77" width="4.51" height="7.12" fill="#4cb03c"/>
<rect x="132.02" y="313.77" width="4.51" height="7.12" fill="#c63f11"/>
<rect x="137.92" y="313.77" width="4.51" height="7.12" fill="#c63f11"/>
<rect x="143.83" y="313.77" width="4.51" height="7.12" fill="#4cb03c"/>
<rect x="149.74" y="313.77" width="4.51" height="7.12" fill="#c63f11"/>
<rect x="155.65" y="313.77" width="4.51" height="7.12" fill="#4cb03c"/>
<rect x="161.55" y="313.77" width="4.51" height="7.12" fill="#4cb03c"/>
<rect x="167.46" y="313.77" width="4.51" height="7.12" fill="#4cb03c"/>
<rect x="173.37" y="313.77" width="4.51" height="7.12" fill="#9c9c2a"/>
<rect x="179.28" y="313.77" width="4.51" height="7.12" fill="#4cb03c"/>
<rect x="185.18" y="313.77" width="4.51" height="7.12" fill="#c63f11"/>
<rect x="191.09" y="313.77" width="4.51" height="7.12" fill="#c63f11"/>
<rect x="2.05" y="322.28" width="4.51" height="7.12" fill="#f81b0b"/>
<rect x="7.96" y="322.28" width="4.51" height="7.12" fill="#c63f11"/>
<rect x="13.87" y="322.28" width="4.51" height="7.12" fill="#4cb03c"/>
<rect x="19.77" y="322.28" width="4.51" height="7.12" fill="#4cb03c"/>
<rect x="25.68" y="322.28" width="4.51" height="7.12" fill="#c63f11"/>
<rect x="31.59" y="322.28" width="4.51" height="7.12" fill="#4cb03c"/>
<rect x="37.50" y="322.28" width="4.51" height="7.12" fill="#4cb03c"/>
<rect x="43.40" y="322.28" width="4.51" height="7.12" fill="#e42a0f"/>
<rect x="49.31" y="322.28" width="4.51" height="7.12" fill="#e42a0f"/>
<rect x="55.22" y="322.28" width="4.51" height="7.12" fill="#4cb03c"/>
<rect x="61.13" y="322.28" width="4.51" height="7.12" fill="#c63f11"/>
<rect x="67.03" y="322.28" width="4.51" height="7.12" fill="#4cb03c"/>
<rect x="72.94" y="322.28" width="4.51" height="7.12" fill="#4cb03c"/>
<rect x="78.85" y="322.28" width="4.51" height="7.12" fill="#4cb03c"/>
<rect x="84.76" y="322.28" width="4.51" height="7.12" fill="#4cb03c"/>
<rect x="90.66" y="322.28" width="4.51" height="7.12" fill="#4cb03c"/>
<rect x="96.57" y="322.28" width="4.51" height="7.12" fill="#4cb03c"/>
<rect x="102.48" y="322.28" width="4.51" height="7.12" fill="#4cb03c"/>
<rect x="108.39" y="322.28" width="4.51" height="7.12" fill="#4cb03c"/>
<rect x="114.29" y="322.28" width="4.51" height="7.12" fill="#4cb03c"/>
<rect x="120.20" y="322.28" width="4.51" height="7.12" fill="#4cb03c"/>
<rect x="126.11" y="322.28" width="4.51" height="7.12" fill="#4cb03c"/>
<rect x="132.02" y="322.28" width="4.51" height="7.12" fill="#4cb03c"/>
<rect x="137.92" y="322.28" width="4.51" height="7.12" fill="#4cb03c"/>
<rect x="143.83" y="322.28" width="4.51" height="7.12" fill="#4cb03c"/>
<rect x="149.74" y="322.28" width="4.51" height="7.12" fill="#4cb03c"/>
<rect x="155.65" y="322.28" width="4.51" height="7.12" fill="#4cb03c"/>
<rect x="161.55" y="322.28" width="4.51" height="7.12" fill="#4cb03c"/>
<rect x="167.46" y="322.28" width="4.51" height="7.12" fill="#c63f11"/>
<rect x="173.37" y="322.28" width="4.51" height="7.12" fill="#c63f11"/>
<rect x="179.28" y="322.28" width="4.51" height="7.12" fill="#4cb03c"/>
<rect x="185.18" y="322.28" width="4.51" height="7.12" fill="#f81b0b"/>
<rect x="191.09" y="322.28" width="4.51" height="7.12" fill="#4cb03c"/>
<text transform="translate(6.65,165.9) rotate(-90)" font-size="6.6" fill="#000" stroke="#000" stroke-width="0.15">#1</text>
<text transform="translate(12.56,165.9) rotate(-90)" font-size="6.6" fill="#000" stroke="#000" stroke-width="0.15">#2</text>
<text transform="translate(18.47,165.9) rotate(-90)" font-size="6.6" fill="#000" stroke="#000" stroke-width="0.15">#3</text>
<text transform="translate(24.38,165.9) rotate(-90)" font-size="6.6" fill="#000" stroke="#000" stroke-width="0.15">#4</text>
<text transform="translate(30.28,165.9) rotate(-90)" font-size="6.6" fill="#000" stroke="#000" stroke-width="0.15">#5</text>
<text transform="translate(36.19,165.9) rotate(-90)" font-size="6.6" fill="#000" stroke="#000" stroke-width="0.15">#6</text>
<text transform="translate(42.10,165.9) rotate(-90)" font-size="6.6" fill="#000" stroke="#000" stroke-width="0.15">#7</text>
<text transform="translate(48.01,165.9) rotate(-90)" font-size="6.6" fill="#000" stroke="#000" stroke-width="0.15">#8</text>
<text transform="translate(53.91,165.9) rotate(-90)" font-size="6.6" fill="#000" stroke="#000" stroke-width="0.15">#9</text>
<text transform="translate(59.82,165.9) rotate(-90)" font-size="6.6" fill="#000" stroke="#000" stroke-width="0.15">#10</text>
<text transform="translate(65.73,165.9) rotate(-90)" font-size="6.6" fill="#000" stroke="#000" stroke-width="0.15">#11</text>
<text transform="translate(71.64,165.9) rotate(-90)" font-size="6.6" fill="#000" stroke="#000" stroke-width="0.15">#12</text>
<text transform="translate(77.54,165.9) rotate(-90)" font-size="6.6" fill="#000" stroke="#000" stroke-width="0.15">#13</text>
<text transform="translate(83.45,165.9) rotate(-90)" font-size="6.6" fill="#000" stroke="#000" stroke-width="0.15">#14</text>
<text transform="translate(89.36,165.9) rotate(-90)" font-size="6.6" fill="#000" stroke="#000" stroke-width="0.15">#15</text>
<text transform="translate(95.27,165.9) rotate(-90)" font-size="6.6" fill="#000" stroke="#000" stroke-width="0.15">#16</text>
<text transform="translate(101.17,165.9) rotate(-90)" font-size="6.6" fill="#000" stroke="#000" stroke-width="0.15">#17</text>
<text transform="translate(107.08,165.9) rotate(-90)" font-size="6.6" fill="#000" stroke="#000" stroke-width="0.15">#18</text>
<text transform="translate(112.99,165.9) rotate(-90)" font-size="6.6" fill="#000" stroke="#000" stroke-width="0.15">#19</text>
<text transform="translate(118.90,165.9) rotate(-90)" font-size="6.6" fill="#000" stroke="#000" stroke-width="0.15">#20</text>
<text transform="translate(124.81,165.9) rotate(-90)" font-size="6.6" fill="#000" stroke="#000" stroke-width="0.15">#21</text>
<text transform="translate(130.71,165.9) rotate(-90)" font-size="6.6" fill="#000" stroke="#000" stroke-width="0.15">#22</text>
<text transform="translate(136.62,165.9) rotate(-90)" font-size="6.6" fill="#000" stroke="#000" stroke-width="0.15">#23</text>
<text transform="translate(142.53,165.9) rotate(-90)" font-size="6.6" fill="#000" stroke="#000" stroke-width="0.15">#24</text>
<text transform="translate(148.44,165.9) rotate(-90)" font-size="6.6" fill="#000" stroke="#000" stroke-width="0.15">#25</text>
<text transform="translate(154.34,165.9) rotate(-90)" font-size="6.6" fill="#000" stroke="#000" stroke-width="0.15">#26</text>
<text transform="translate(160.25,165.9) rotate(-90)" font-size="6.6" fill="#000" stroke="#000" stroke-width="0.15">#27</text>
<text transform="translate(166.16,165.9) rotate(-90)" font-size="6.6" fill="#000" stroke="#000" stroke-width="0.15">#28</text>
<text transform="translate(172.07,165.9) rotate(-90)" font-size="6.6" fill="#000" stroke="#000" stroke-width="0.15">#29</text>
<text transform="translate(177.97,165.9) rotate(-90)" font-size="6.6" fill="#000" stroke="#000" stroke-width="0.15">#30</text>
<text transform="translate(183.88,165.9) rotate(-90)" font-size="6.6" fill="#000" stroke="#000" stroke-width="0.15">#31</text>
<text transform="translate(189.79,165.9) rotate(-90)" font-size="6.6" fill="#000" stroke="#000" stroke-width="0.15">#32</text>
<text transform="translate(195.70,165.9) rotate(-90)" font-size="6.6" fill="#000" stroke="#000" stroke-width="0.15">#33</text>
<text x="200" y="175.50" font-size="7.2" fill="#000" stroke="#000" stroke-width="0.15">TP73L</text>
<text x="200" y="184.03" font-size="7.2" fill="#000" stroke="#000" stroke-width="0.15">TNFAIP2</text>
<text x="200" y="192.56" font-size="7.2" fill="#000" stroke="#000" stroke-width="0.15">LMO2</text>
<text x="200" y="201.09" font-size="7.2" fill="#000" stroke="#000" stroke-width="0.15">RAB37</text>
<text x="200" y="209.62" font-size="7.2" fill="#000" stroke="#000" stroke-width="0.15">MCL1</text>
<text x="200" y="218.15" font-size="7.2" fill="#000" stroke="#000" stroke-width="0.15">IL4I1</text>
<text x="200" y="226.68" font-size="7.2" fill="#000" stroke="#000" stroke-width="0.15">ZFP90</text>
<text x="200" y="235.21" font-size="7.2" fill="#000" stroke="#000" stroke-width="0.15">CDK1B</text>
<text x="200" y="243.74" font-size="7.2" fill="#000" stroke="#000" stroke-width="0.15">GNAZ</text>
<text x="200" y="252.27" font-size="7.2" fill="#000" stroke="#000" stroke-width="0.15">RAB33A</text>
<text x="200" y="260.80" font-size="7.2" fill="#000" stroke="#000" stroke-width="0.15">CCNB3</text>
<text x="200" y="269.33" font-size="7.2" fill="#000" stroke="#000" stroke-width="0.15">NFIL3</text>
<text x="200" y="277.86" font-size="7.2" fill="#000" stroke="#000" stroke-width="0.15">ATF3</text>
<text x="200" y="286.39" font-size="7.2" fill="#000" stroke="#000" stroke-width="0.15">ADRB2</text>
<text x="200" y="294.92" font-size="7.2" fill="#000" stroke="#000" stroke-width="0.15">ANK3</text>
<text x="200" y="303.45" font-size="7.2" fill="#000" stroke="#000" stroke-width="0.15">EIF2C4</text>
<text x="200" y="311.98" font-size="7.2" fill="#000" stroke="#000" stroke-width="0.15">RASD1</text>
<text x="200" y="320.51" font-size="7.2" fill="#000" stroke="#000" stroke-width="0.15">NOTCH2</text>
<text x="200" y="329.04" font-size="7.2" fill="#000" stroke="#000" stroke-width="0.15">CD44</text>
<text x="2.6" y="147.2" font-size="12.3"><tspan fill="#e8202a" stroke="#e8202a" stroke-width="0.25">FL-(Cy5)</tspan><tspan fill="#111" stroke="#111" stroke-width="0.25"> vs </tspan><tspan fill="#22a038" stroke="#22a038" stroke-width="0.25">Universal-(Cy3)</tspan></text>
<defs><linearGradient id="gl" x1="0" x2="1"><stop offset="0" stop-color="#48c438"/><stop offset="1" stop-color="#6e9e26"/></linearGradient><linearGradient id="gr" x1="0" x2="1"><stop offset="0" stop-color="#96461a"/><stop offset="0.33" stop-color="#e02c10"/><stop offset="0.6" stop-color="#ff1408"/><stop offset="1" stop-color="#ff1408"/></linearGradient></defs>
<rect x="59.5" y="336.8" width="85.5" height="5.2" fill="url(#gl)"/>
<rect x="145" y="336.8" width="85.8" height="5.2" fill="url(#gr)"/>
<rect x="59" y="336.2" width="1.2" height="6.8" fill="#48c438"/>
<rect x="144.4" y="336.2" width="1.2" height="6.8" fill="#8a8a20"/>
<rect x="230" y="336.2" width="1.2" height="6.8" fill="#ff1208"/>
<text x="59" y="351.2" font-size="7" fill="#000" stroke="#000" stroke-width="0.1">-2.4</text>
<text x="143.3" y="351.2" font-size="7" fill="#000" stroke="#000" stroke-width="0.1">0</text>
<text x="216.5" y="351.2" font-size="7" fill="#000" stroke="#000" stroke-width="0.1">+2.4</text>
<text x="66.3" y="366.4" font-size="12.25" fill="#000" stroke="#000" stroke-width="0.25">(Normalized expression levels)</text>
<text transform="translate(296.87,11.3) rotate(-90) scale(0.89,1)" font-size="7.5" fill="#000" stroke="#000" stroke-width="0.15">#1</text>
<text transform="translate(302.80,11.3) rotate(-90) scale(0.89,1)" font-size="7.5" fill="#000" stroke="#000" stroke-width="0.15">#2</text>
<text transform="translate(308.73,11.3) rotate(-90) scale(0.89,1)" font-size="7.5" fill="#000" stroke="#000" stroke-width="0.15">#3</text>
<text transform="translate(314.67,11.3) rotate(-90) scale(0.89,1)" font-size="7.5" fill="#000" stroke="#000" stroke-width="0.15">#4</text>
<text transform="translate(320.60,11.3) rotate(-90) scale(0.89,1)" font-size="7.5" fill="#000" stroke="#000" stroke-width="0.15">#5</text>
<text transform="translate(326.53,11.3) rotate(-90) scale(0.89,1)" font-size="7.5" fill="#000" stroke="#000" stroke-width="0.15">#6</text>
<text transform="translate(332.47,11.3) rotate(-90) scale(0.89,1)" font-size="7.5" fill="#000" stroke="#000" stroke-width="0.15">#7</text>
<text transform="translate(338.40,11.3) rotate(-90) scale(0.89,1)" font-size="7.5" fill="#000" stroke="#000" stroke-width="0.15">#8</text>
<text transform="translate(344.33,11.3) rotate(-90) scale(0.89,1)" font-size="7.5" fill="#000" stroke="#000" stroke-width="0.15">#9</text>
<text transform="translate(350.27,11.3) rotate(-90) scale(0.89,1)" font-size="7.5" fill="#000" stroke="#000" stroke-width="0.15">#10</text>
<text transform="translate(356.20,11.3) rotate(-90) scale(0.89,1)" font-size="7.5" fill="#000" stroke="#000" stroke-width="0.15">#11</text>
<text transform="translate(362.13,11.3) rotate(-90) scale(0.89,1)" font-size="7.5" fill="#000" stroke="#000" stroke-width="0.15">#12</text>
<text transform="translate(368.07,11.3) rotate(-90) scale(0.89,1)" font-size="7.5" fill="#000" stroke="#000" stroke-width="0.15">#13</text>
<text transform="translate(374.00,11.3) rotate(-90) scale(0.89,1)" font-size="7.5" fill="#000" stroke="#000" stroke-width="0.15">#14</text>
<text transform="translate(379.93,11.3) rotate(-90) scale(0.89,1)" font-size="7.5" fill="#000" stroke="#000" stroke-width="0.15">#15</text>
<text transform="translate(385.87,11.3) rotate(-90) scale(0.89,1)" font-size="7.5" fill="#000" stroke="#000" stroke-width="0.15">#16</text>
<text transform="translate(391.80,11.3) rotate(-90) scale(0.89,1)" font-size="7.5" fill="#000" stroke="#000" stroke-width="0.15">#17</text>
<text transform="translate(397.73,11.3) rotate(-90) scale(0.89,1)" font-size="7.5" fill="#000" stroke="#000" stroke-width="0.15">#18</text>
<text transform="translate(403.67,11.3) rotate(-90) scale(0.89,1)" font-size="7.5" fill="#000" stroke="#000" stroke-width="0.15">#19</text>
<text transform="translate(409.60,11.3) rotate(-90) scale(0.89,1)" font-size="7.5" fill="#000" stroke="#000" stroke-width="0.15">#20</text>
<text transform="translate(415.53,11.3) rotate(-90) scale(0.89,1)" font-size="7.5" fill="#000" stroke="#000" stroke-width="0.15">#21</text>
<text transform="translate(421.47,11.3) rotate(-90) scale(0.89,1)" font-size="7.5" fill="#000" stroke="#000" stroke-width="0.15">#22</text>
<text transform="translate(427.40,11.3) rotate(-90) scale(0.89,1)" font-size="7.5" fill="#000" stroke="#000" stroke-width="0.15">#23</text>
<text transform="translate(433.33,11.3) rotate(-90) scale(0.89,1)" font-size="7.5" fill="#000" stroke="#000" stroke-width="0.15">#24</text>
<text transform="translate(439.27,11.3) rotate(-90) scale(0.89,1)" font-size="7.5" fill="#000" stroke="#000" stroke-width="0.15">#25</text>
<text transform="translate(445.20,11.3) rotate(-90) scale(0.89,1)" font-size="7.5" fill="#000" stroke="#000" stroke-width="0.15">#26</text>
<text transform="translate(451.13,11.3) rotate(-90) scale(0.89,1)" font-size="7.5" fill="#000" stroke="#000" stroke-width="0.15">#27</text>
<text transform="translate(457.07,11.3) rotate(-90) scale(0.89,1)" font-size="7.5" fill="#000" stroke="#000" stroke-width="0.15">#28</text>
<text transform="translate(463.00,11.3) rotate(-90) scale(0.89,1)" font-size="7.5" fill="#000" stroke="#000" stroke-width="0.15">#29</text>
<text transform="translate(468.93,11.3) rotate(-90) scale(0.89,1)" font-size="7.5" fill="#000" stroke="#000" stroke-width="0.15">#30</text>
<text transform="translate(474.87,11.3) rotate(-90) scale(0.89,1)" font-size="7.5" fill="#000" stroke="#000" stroke-width="0.15">#31</text>
<text transform="translate(480.80,11.3) rotate(-90) scale(0.89,1)" font-size="7.5" fill="#000" stroke="#000" stroke-width="0.15">#32</text>
<text transform="translate(486.73,11.3) rotate(-90) scale(0.89,1)" font-size="7.5" fill="#000" stroke="#000" stroke-width="0.15">#33</text>
<rect x="291.20" y="13.60" width="195.80" height="22.6" fill="#fff" stroke="#0c0c0c" stroke-width="1"/>
<rect x="291.50" y="33.26" width="5.33" height="2.94" fill="#b8b0a9" stroke="#1a1a1a" stroke-width="0.9"/>
<rect x="297.43" y="34.17" width="5.33" height="2.03" fill="#b8b0a9" stroke="#1a1a1a" stroke-width="0.9"/>
<rect x="303.37" y="28.29" width="5.33" height="7.91" fill="#b8b0a9" stroke="#1a1a1a" stroke-width="0.9"/>
<rect x="309.30" y="29.65" width="5.33" height="6.55" fill="#b8b0a9" stroke="#1a1a1a" stroke-width="0.9"/>
<rect x="315.23" y="28.97" width="5.33" height="7.23" fill="#b8b0a9" stroke="#1a1a1a" stroke-width="0.9"/>
<rect x="321.17" y="33.49" width="5.33" height="2.71" fill="#b8b0a9" stroke="#1a1a1a" stroke-width="0.9"/>
<rect x="327.10" y="30.55" width="5.33" height="5.65" fill="#b8b0a9" stroke="#1a1a1a" stroke-width="0.9"/>
<rect x="333.03" y="28.29" width="5.33" height="7.91" fill="#b8b0a9" stroke="#1a1a1a" stroke-width="0.9"/>
<rect x="338.97" y="25.80" width="5.33" height="10.40" fill="#b8b0a9" stroke="#1a1a1a" stroke-width="0.9"/>
<rect x="344.90" y="27.39" width="5.33" height="8.81" fill="#b8b0a9" stroke="#1a1a1a" stroke-width="0.9"/>
<rect x="350.83" y="19.70" width="5.33" height="16.50" fill="#b8b0a9" stroke="#1a1a1a" stroke-width="0.9"/>
<rect x="356.77" y="23.32" width="5.33" height="12.88" fill="#b8b0a9" stroke="#1a1a1a" stroke-width="0.9"/>
<rect x="362.70" y="22.64" width="5.33" height="13.56" fill="#b8b0a9" stroke="#1a1a1a" stroke-width="0.9"/>
<rect x="368.63" y="21.96" width="5.33" height="14.24" fill="#b8b0a9" stroke="#1a1a1a" stroke-width="0.9"/>
<rect x="374.57" y="32.58" width="5.33" height="3.62" fill="#b8b0a9" stroke="#1a1a1a" stroke-width="0.9"/>
<rect x="380.50" y="30.78" width="5.33" height="5.42" fill="#b8b0a9" stroke="#1a1a1a" stroke-width="0.9"/>
<rect x="386.43" y="34.17" width="5.33" height="2.03" fill="#b8b0a9" stroke="#1a1a1a" stroke-width="0.9"/>
<rect x="392.37" y="29.65" width="5.33" height="6.55" fill="#b8b0a9" stroke="#1a1a1a" stroke-width="0.9"/>
<rect x="398.30" y="25.35" width="5.33" height="10.85" fill="#b8b0a9" stroke="#1a1a1a" stroke-width="0.9"/>
<rect x="404.23" y="33.71" width="5.33" height="2.49" fill="#b8b0a9" stroke="#1a1a1a" stroke-width="0.9"/>
<rect x="410.17" y="33.71" width="5.33" height="2.49" fill="#b8b0a9" stroke="#1a1a1a" stroke-width="0.9"/>
<rect x="416.10" y="28.74" width="5.33" height="7.46" fill="#b8b0a9" stroke="#1a1a1a" stroke-width="0.9"/>
<rect x="422.03" y="30.55" width="5.33" height="5.65" fill="#b8b0a9" stroke="#1a1a1a" stroke-width="0.9"/>
<rect x="427.97" y="30.55" width="5.33" height="5.65" fill="#b8b0a9" stroke="#1a1a1a" stroke-width="0.9"/>
<rect x="433.90" y="28.74" width="5.33" height="7.46" fill="#b8b0a9" stroke="#1a1a1a" stroke-width="0.9"/>
<rect x="439.83" y="15.41" width="5.33" height="20.79" fill="#b8b0a9" stroke="#1a1a1a" stroke-width="0.9"/>
<rect x="445.77" y="29.19" width="5.33" height="7.01" fill="#b8b0a9" stroke="#1a1a1a" stroke-width="0.9"/>
<rect x="451.70" y="24.22" width="5.33" height="11.98" fill="#b8b0a9" stroke="#1a1a1a" stroke-width="0.9"/>
<rect x="457.63" y="28.29" width="5.33" height="7.91" fill="#b8b0a9" stroke="#1a1a1a" stroke-width="0.9"/>
<rect x="463.57" y="34.17" width="5.33" height="2.03" fill="#b8b0a9" stroke="#1a1a1a" stroke-width="0.9"/>
<rect x="469.50" y="34.62" width="5.33" height="1.58" fill="#b8b0a9" stroke="#1a1a1a" stroke-width="0.9"/>
<rect x="475.43" y="29.65" width="5.33" height="6.55" fill="#b8b0a9" stroke="#1a1a1a" stroke-width="0.9"/>
<rect x="481.37" y="30.55" width="5.33" height="5.65" fill="#b8b0a9" stroke="#1a1a1a" stroke-width="0.9"/>
<text x="288.2" y="28.8" font-size="10" fill="#de1f2c" stroke="#de1f2c" stroke-width="0.3" text-anchor="end">TP73L</text>
<text x="488.4" y="18.10" font-size="5.8" fill="#2020b8" stroke="#2020b8" stroke-width="0.2">4.91</text>
<text x="488.4" y="37.20" font-size="5.8" fill="#2020b8" stroke="#2020b8" stroke-width="0.2">0.00</text>
<rect x="291.20" y="39.03" width="195.80" height="22.6" fill="#fff" stroke="#0c0c0c" stroke-width="1"/>
<rect x="291.50" y="55.53" width="5.33" height="6.10" fill="#b8b0a9" stroke="#1a1a1a" stroke-width="0.9"/>
<rect x="297.43" y="56.66" width="5.33" height="4.97" fill="#b8b0a9" stroke="#1a1a1a" stroke-width="0.9"/>
<rect x="303.37" y="40.61" width="5.33" height="21.02" fill="#b8b0a9" stroke="#1a1a1a" stroke-width="0.9"/>
<rect x="309.30" y="49.43" width="5.33" height="12.20" fill="#b8b0a9" stroke="#1a1a1a" stroke-width="0.9"/>
<rect x="315.23" y="52.59" width="5.33" height="9.04" fill="#b8b0a9" stroke="#1a1a1a" stroke-width="0.9"/>
<rect x="321.17" y="58.69" width="5.33" height="2.94" fill="#b8b0a9" stroke="#1a1a1a" stroke-width="0.9"/>
<rect x="327.10" y="57.56" width="5.33" height="4.07" fill="#b8b0a9" stroke="#1a1a1a" stroke-width="0.9"/>
<rect x="333.03" y="45.81" width="5.33" height="15.82" fill="#b8b0a9" stroke="#1a1a1a" stroke-width="0.9"/>
<rect x="338.97" y="51.46" width="5.33" height="10.17" fill="#b8b0a9" stroke="#1a1a1a" stroke-width="0.9"/>
<rect x="344.90" y="49.43" width="5.33" height="12.20" fill="#b8b0a9" stroke="#1a1a1a" stroke-width="0.9"/>
<rect x="350.83" y="44.68" width="5.33" height="16.95" fill="#b8b0a9" stroke="#1a1a1a" stroke-width="0.9"/>
<rect x="356.77" y="50.33" width="5.33" height="11.30" fill="#b8b0a9" stroke="#1a1a1a" stroke-width="0.9"/>
<rect x="362.70" y="53.95" width="5.33" height="7.68" fill="#b8b0a9" stroke="#1a1a1a" stroke-width="0.9"/>
<rect x="368.63" y="43.32" width="5.33" height="18.31" fill="#b8b0a9" stroke="#1a1a1a" stroke-width="0.9"/>
<rect x="374.57" y="53.49" width="5.33" height="8.14" fill="#b8b0a9" stroke="#1a1a1a" stroke-width="0.9"/>
<rect x="380.50" y="58.69" width="5.33" height="2.94" fill="#b8b0a9" stroke="#1a1a1a" stroke-width="0.9"/>
<rect x="386.43" y="58.69" width="5.33" height="2.94" fill="#b8b0a9" stroke="#1a1a1a" stroke-width="0.9"/>
<rect x="392.37" y="55.98" width="5.33" height="5.65" fill="#b8b0a9" stroke="#1a1a1a" stroke-width="0.9"/>
<rect x="398.30" y="48.30" width="5.33" height="13.33" fill="#b8b0a9" stroke="#1a1a1a" stroke-width="0.9"/>
<rect x="404.23" y="50.56" width="5.33" height="11.07" fill="#b8b0a9" stroke="#1a1a1a" stroke-width="0.9"/>
<rect x="410.17" y="57.11" width="5.33" height="4.52" fill="#b8b0a9" stroke="#1a1a1a" stroke-width="0.9"/>
<rect x="416.10" y="56.21" width="5.33" height="5.42" fill="#b8b0a9" stroke="#1a1a1a" stroke-width="0.9"/>
<rect x="422.03" y="53.04" width="5.33" height="8.59" fill="#b8b0a9" stroke="#1a1a1a" stroke-width="0.9"/>
<line x1="427.67" y1="61.63" x2="433.60" y2="61.63" stroke="#1a1a1a" stroke-width="0.9"/>
<rect x="433.90" y="59.60" width="5.33" height="2.03" fill="#b8b0a9" stroke="#1a1a1a" stroke-width="0.9"/>
<rect x="439.83" y="52.36" width="5.33" height="9.27" fill="#b8b0a9" stroke="#1a1a1a" stroke-width="0.9"/>
<rect x="445.77" y="52.36" width="5.33" height="9.27" fill="#b8b0a9" stroke="#1a1a1a" stroke-width="0.9"/>
<rect x="451.70" y="47.39" width="5.33" height="14.24" fill="#b8b0a9" stroke="#1a1a1a" stroke-width="0.9"/>
<rect x="457.63" y="56.43" width="5.33" height="5.20" fill="#b8b0a9" stroke="#1a1a1a" stroke-width="0.9"/>
<rect x="463.57" y="53.49" width="5.33" height="8.14" fill="#b8b0a9" stroke="#1a1a1a" stroke-width="0.9"/>
<rect x="469.50" y="53.49" width="5.33" height="8.14" fill="#b8b0a9" stroke="#1a1a1a" stroke-width="0.9"/>
<rect x="475.43" y="51.46" width="5.33" height="10.17" fill="#b8b0a9" stroke="#1a1a1a" stroke-width="0.9"/>
<rect x="481.37" y="46.26" width="5.33" height="15.37" fill="#b8b0a9" stroke="#1a1a1a" stroke-width="0.9"/>
<text x="288.2" y="56.1" font-size="10" fill="#de1f2c" stroke="#de1f2c" stroke-width="0.3" text-anchor="end">TNFAIP2</text>
<text x="488.4" y="43.49" font-size="5.8" fill="#2020b8" stroke="#2020b8" stroke-width="0.2">2.65</text>
<text x="488.4" y="62.58" font-size="5.8" fill="#2020b8" stroke="#2020b8" stroke-width="0.2">0.00</text>
<rect x="291.20" y="64.46" width="195.80" height="22.6" fill="#fff" stroke="#0c0c0c" stroke-width="1"/>
<line x1="291.20" y1="87.06" x2="297.13" y2="87.06" stroke="#1a1a1a" stroke-width="0.9"/>
<rect x="297.43" y="86.38" width="5.33" height="0.68" fill="#b8b0a9" stroke="#1a1a1a" stroke-width="0.9"/>
<rect x="303.37" y="74.63" width="5.33" height="12.43" fill="#b8b0a9" stroke="#1a1a1a" stroke-width="0.9"/>
<rect x="309.30" y="82.77" width="5.33" height="4.29" fill="#b8b0a9" stroke="#1a1a1a" stroke-width="0.9"/>
<rect x="315.23" y="79.83" width="5.33" height="7.23" fill="#b8b0a9" stroke="#1a1a1a" stroke-width="0.9"/>
<rect x="321.17" y="84.57" width="5.33" height="2.49" fill="#b8b0a9" stroke="#1a1a1a" stroke-width="0.9"/>
<rect x="327.10" y="79.15" width="5.33" height="7.91" fill="#b8b0a9" stroke="#1a1a1a" stroke-width="0.9"/>
<line x1="332.73" y1="87.06" x2="338.67" y2="87.06" stroke="#1a1a1a" stroke-width="0.9"/>
<rect x="338.97" y="79.15" width="5.33" height="7.91" fill="#b8b0a9" stroke="#1a1a1a" stroke-width="0.9"/>
<line x1="344.60" y1="87.06" x2="350.53" y2="87.06" stroke="#1a1a1a" stroke-width="0.9"/>
<line x1="350.53" y1="87.06" x2="356.47" y2="87.06" stroke="#1a1a1a" stroke-width="0.9"/>
<rect x="356.77" y="80.73" width="5.33" height="6.33" fill="#b8b0a9" stroke="#1a1a1a" stroke-width="0.9"/>
<rect x="362.70" y="70.11" width="5.33" height="16.95" fill="#b8b0a9" stroke="#1a1a1a" stroke-width="0.9"/>
<rect x="368.63" y="82.77" width="5.33" height="4.29" fill="#b8b0a9" stroke="#1a1a1a" stroke-width="0.9"/>
<rect x="374.57" y="73.95" width="5.33" height="13.11" fill="#b8b0a9" stroke="#1a1a1a" stroke-width="0.9"/>
<rect x="380.50" y="76.66" width="5.33" height="10.40" fill="#b8b0a9" stroke="#1a1a1a" stroke-width="0.9"/>
<rect x="386.43" y="85.48" width="5.33" height="1.58" fill="#b8b0a9" stroke="#1a1a1a" stroke-width="0.9"/>
<rect x="392.37" y="84.12" width="5.33" height="2.94" fill="#b8b0a9" stroke="#1a1a1a" stroke-width="0.9"/>
<rect x="398.30" y="78.02" width="5.33" height="9.04" fill="#b8b0a9" stroke="#1a1a1a" stroke-width="0.9"/>
<line x1="403.93" y1="87.06" x2="409.87" y2="87.06" stroke="#1a1a1a" stroke-width="0.9"/>
<rect x="410.17" y="80.73" width="5.33" height="6.33" fill="#b8b0a9" stroke="#1a1a1a" stroke-width="0.9"/>
<rect x="416.10" y="85.03" width="5.33" height="2.03" fill="#b8b0a9" stroke="#1a1a1a" stroke-width="0.9"/>
<rect x="422.03" y="78.70" width="5.33" height="8.36" fill="#b8b0a9" stroke="#1a1a1a" stroke-width="0.9"/>
<rect x="427.97" y="70.56" width="5.33" height="16.50" fill="#b8b0a9" stroke="#1a1a1a" stroke-width="0.9"/>
<rect x="433.90" y="72.60" width="5.33" height="14.46" fill="#b8b0a9" stroke="#1a1a1a" stroke-width="0.9"/>
<rect x="439.83" y="79.60" width="5.33" height="7.46" fill="#b8b0a9" stroke="#1a1a1a" stroke-width="0.9"/>
<rect x="445.77" y="71.47" width="5.33" height="15.59" fill="#b8b0a9" stroke="#1a1a1a" stroke-width="0.9"/>
<line x1="451.40" y1="87.06" x2="457.33" y2="87.06" stroke="#1a1a1a" stroke-width="0.9"/>
<rect x="457.63" y="83.44" width="5.33" height="3.62" fill="#b8b0a9" stroke="#1a1a1a" stroke-width="0.9"/>
<rect x="463.57" y="73.50" width="5.33" height="13.56" fill="#b8b0a9" stroke="#1a1a1a" stroke-width="0.9"/>
<rect x="469.50" y="73.95" width="5.33" height="13.11" fill="#b8b0a9" stroke="#1a1a1a" stroke-width="0.9"/>
<rect x="475.43" y="86.16" width="5.33" height="0.90" fill="#b8b0a9" stroke="#1a1a1a" stroke-width="0.9"/>
<rect x="481.37" y="66.49" width="5.33" height="20.57" fill="#b8b0a9" stroke="#1a1a1a" stroke-width="0.9"/>
<text x="288" y="81.6" font-size="10" fill="#de1f2c" stroke="#de1f2c" stroke-width="0.3" text-anchor="end">LMO2</text>
<text x="488.4" y="68.88" font-size="5.8" fill="#2020b8" stroke="#2020b8" stroke-width="0.2">4.05</text>
<text x="488.4" y="87.96" font-size="5.8" fill="#2020b8" stroke="#2020b8" stroke-width="0.2">0.00</text>
<rect x="291.20" y="89.89" width="195.80" height="22.6" fill="#fff" stroke="#0c0c0c" stroke-width="1"/>
<rect x="291.50" y="104.58" width="5.33" height="7.91" fill="#b8b0a9" stroke="#1a1a1a" stroke-width="0.9"/>
<rect x="297.43" y="105.48" width="5.33" height="7.01" fill="#b8b0a9" stroke="#1a1a1a" stroke-width="0.9"/>
<rect x="303.37" y="104.58" width="5.33" height="7.91" fill="#b8b0a9" stroke="#1a1a1a" stroke-width="0.9"/>
<rect x="309.30" y="99.38" width="5.33" height="13.11" fill="#b8b0a9" stroke="#1a1a1a" stroke-width="0.9"/>
<rect x="315.23" y="104.58" width="5.33" height="7.91" fill="#b8b0a9" stroke="#1a1a1a" stroke-width="0.9"/>
<rect x="321.17" y="106.39" width="5.33" height="6.10" fill="#b8b0a9" stroke="#1a1a1a" stroke-width="0.9"/>
<rect x="327.10" y="101.19" width="5.33" height="11.30" fill="#b8b0a9" stroke="#1a1a1a" stroke-width="0.9"/>
<rect x="333.03" y="95.99" width="5.33" height="16.50" fill="#b8b0a9" stroke="#1a1a1a" stroke-width="0.9"/>
<rect x="338.97" y="102.09" width="5.33" height="10.40" fill="#b8b0a9" stroke="#1a1a1a" stroke-width="0.9"/>
<rect x="344.90" y="100.51" width="5.33" height="11.98" fill="#b8b0a9" stroke="#1a1a1a" stroke-width="0.9"/>
<rect x="350.83" y="100.51" width="5.33" height="11.98" fill="#b8b0a9" stroke="#1a1a1a" stroke-width="0.9"/>
<rect x="356.77" y="93.51" width="5.33" height="18.98" fill="#b8b0a9" stroke="#1a1a1a" stroke-width="0.9"/>
<rect x="362.70" y="97.57" width="5.33" height="14.92" fill="#b8b0a9" stroke="#1a1a1a" stroke-width="0.9"/>
<rect x="368.63" y="97.57" width="5.33" height="14.92" fill="#b8b0a9" stroke="#1a1a1a" stroke-width="0.9"/>
<rect x="374.57" y="108.87" width="5.33" height="3.62" fill="#b8b0a9" stroke="#1a1a1a" stroke-width="0.9"/>
<rect x="380.50" y="91.47" width="5.33" height="21.02" fill="#b8b0a9" stroke="#1a1a1a" stroke-width="0.9"/>
<rect x="386.43" y="101.42" width="5.33" height="11.07" fill="#b8b0a9" stroke="#1a1a1a" stroke-width="0.9"/>
<rect x="392.37" y="101.42" width="5.33" height="11.07" fill="#b8b0a9" stroke="#1a1a1a" stroke-width="0.9"/>
<rect x="398.30" y="103.45" width="5.33" height="9.04" fill="#b8b0a9" stroke="#1a1a1a" stroke-width="0.9"/>
<rect x="404.23" y="103.00" width="5.33" height="9.49" fill="#b8b0a9" stroke="#1a1a1a" stroke-width="0.9"/>
<rect x="410.17" y="100.51" width="5.33" height="11.98" fill="#b8b0a9" stroke="#1a1a1a" stroke-width="0.9"/>
<rect x="416.10" y="94.41" width="5.33" height="18.08" fill="#b8b0a9" stroke="#1a1a1a" stroke-width="0.9"/>
<rect x="422.03" y="95.99" width="5.33" height="16.50" fill="#b8b0a9" stroke="#1a1a1a" stroke-width="0.9"/>
<rect x="427.97" y="98.48" width="5.33" height="14.01" fill="#b8b0a9" stroke="#1a1a1a" stroke-width="0.9"/>
<rect x="433.90" y="106.39" width="5.33" height="6.10" fill="#b8b0a9" stroke="#1a1a1a" stroke-width="0.9"/>
<rect x="439.83" y="105.48" width="5.33" height="7.01" fill="#b8b0a9" stroke="#1a1a1a" stroke-width="0.9"/>
<rect x="445.77" y="95.99" width="5.33" height="16.50" fill="#b8b0a9" stroke="#1a1a1a" stroke-width="0.9"/>
<rect x="451.70" y="100.96" width="5.33" height="11.53" fill="#b8b0a9" stroke="#1a1a1a" stroke-width="0.9"/>
<rect x="457.63" y="96.90" width="5.33" height="15.59" fill="#b8b0a9" stroke="#1a1a1a" stroke-width="0.9"/>
<rect x="463.57" y="101.42" width="5.33" height="11.07" fill="#b8b0a9" stroke="#1a1a1a" stroke-width="0.9"/>
<rect x="469.50" y="98.93" width="5.33" height="13.56" fill="#b8b0a9" stroke="#1a1a1a" stroke-width="0.9"/>
<rect x="475.43" y="102.09" width="5.33" height="10.40" fill="#b8b0a9" stroke="#1a1a1a" stroke-width="0.9"/>
<rect x="481.37" y="104.81" width="5.33" height="7.68" fill="#b8b0a9" stroke="#1a1a1a" stroke-width="0.9"/>
<text x="287.3" y="105.1" font-size="10" fill="#de1f2c" stroke="#de1f2c" stroke-width="0.3" text-anchor="end">RAB37</text>
<text x="488.4" y="94.27" font-size="5.8" fill="#2020b8" stroke="#2020b8" stroke-width="0.2">3.30</text>
<text x="488.4" y="113.34" font-size="5.8" fill="#2020b8" stroke="#2020b8" stroke-width="0.2">0.00</text>
<rect x="291.20" y="115.32" width="195.80" height="22.6" fill="#fff" stroke="#0c0c0c" stroke-width="1"/>
<rect x="291.50" y="128.88" width="5.33" height="9.04" fill="#b8b0a9" stroke="#1a1a1a" stroke-width="0.9"/>
<rect x="297.43" y="128.88" width="5.33" height="9.04" fill="#b8b0a9" stroke="#1a1a1a" stroke-width="0.9"/>
<rect x="303.37" y="127.98" width="5.33" height="9.94" fill="#b8b0a9" stroke="#1a1a1a" stroke-width="0.9"/>
<rect x="309.30" y="130.01" width="5.33" height="7.91" fill="#b8b0a9" stroke="#1a1a1a" stroke-width="0.9"/>
<rect x="315.23" y="127.98" width="5.33" height="9.94" fill="#b8b0a9" stroke="#1a1a1a" stroke-width="0.9"/>
<rect x="321.17" y="117.13" width="5.33" height="20.79" fill="#b8b0a9" stroke="#1a1a1a" stroke-width="0.9"/>
<rect x="327.10" y="128.43" width="5.33" height="9.49" fill="#b8b0a9" stroke="#1a1a1a" stroke-width="0.9"/>
<rect x="333.03" y="127.52" width="5.33" height="10.40" fill="#b8b0a9" stroke="#1a1a1a" stroke-width="0.9"/>
<rect x="338.97" y="131.59" width="5.33" height="6.33" fill="#b8b0a9" stroke="#1a1a1a" stroke-width="0.9"/>
<rect x="344.90" y="130.01" width="5.33" height="7.91" fill="#b8b0a9" stroke="#1a1a1a" stroke-width="0.9"/>
<rect x="350.83" y="126.62" width="5.33" height="11.30" fill="#b8b0a9" stroke="#1a1a1a" stroke-width="0.9"/>
<rect x="356.77" y="128.88" width="5.33" height="9.04" fill="#b8b0a9" stroke="#1a1a1a" stroke-width="0.9"/>
<rect x="362.70" y="131.59" width="5.33" height="6.33" fill="#b8b0a9" stroke="#1a1a1a" stroke-width="0.9"/>
<rect x="368.63" y="131.59" width="5.33" height="6.33" fill="#b8b0a9" stroke="#1a1a1a" stroke-width="0.9"/>
<rect x="374.57" y="130.91" width="5.33" height="7.01" fill="#b8b0a9" stroke="#1a1a1a" stroke-width="0.9"/>
<rect x="380.50" y="130.01" width="5.33" height="7.91" fill="#b8b0a9" stroke="#1a1a1a" stroke-width="0.9"/>
<rect x="386.43" y="134.30" width="5.33" height="3.62" fill="#b8b0a9" stroke="#1a1a1a" stroke-width="0.9"/>
<rect x="392.37" y="127.52" width="5.33" height="10.40" fill="#b8b0a9" stroke="#1a1a1a" stroke-width="0.9"/>
<rect x="398.30" y="130.91" width="5.33" height="7.01" fill="#b8b0a9" stroke="#1a1a1a" stroke-width="0.9"/>
<rect x="404.23" y="130.01" width="5.33" height="7.91" fill="#b8b0a9" stroke="#1a1a1a" stroke-width="0.9"/>
<rect x="410.17" y="131.59" width="5.33" height="6.33" fill="#b8b0a9" stroke="#1a1a1a" stroke-width="0.9"/>
<rect x="416.10" y="130.01" width="5.33" height="7.91" fill="#b8b0a9" stroke="#1a1a1a" stroke-width="0.9"/>
<rect x="422.03" y="133.63" width="5.33" height="4.29" fill="#b8b0a9" stroke="#1a1a1a" stroke-width="0.9"/>
<rect x="427.97" y="126.62" width="5.33" height="11.30" fill="#b8b0a9" stroke="#1a1a1a" stroke-width="0.9"/>
<rect x="433.90" y="128.88" width="5.33" height="9.04" fill="#b8b0a9" stroke="#1a1a1a" stroke-width="0.9"/>
<rect x="439.83" y="131.59" width="5.33" height="6.33" fill="#b8b0a9" stroke="#1a1a1a" stroke-width="0.9"/>
<rect x="445.77" y="133.63" width="5.33" height="4.29" fill="#b8b0a9" stroke="#1a1a1a" stroke-width="0.9"/>
<rect x="451.70" y="130.01" width="5.33" height="7.91" fill="#b8b0a9" stroke="#1a1a1a" stroke-width="0.9"/>
<rect x="457.63" y="126.62" width="5.33" height="11.30" fill="#b8b0a9" stroke="#1a1a1a" stroke-width="0.9"/>
<rect x="463.57" y="128.43" width="5.33" height="9.49" fill="#b8b0a9" stroke="#1a1a1a" stroke-width="0.9"/>
<rect x="469.50" y="130.91" width="5.33" height="7.01" fill="#b8b0a9" stroke="#1a1a1a" stroke-width="0.9"/>
<rect x="475.43" y="125.49" width="5.33" height="12.43" fill="#b8b0a9" stroke="#1a1a1a" stroke-width="0.9"/>
<rect x="481.37" y="131.59" width="5.33" height="6.33" fill="#b8b0a9" stroke="#1a1a1a" stroke-width="0.9"/>
<text x="287.4" y="132.7" font-size="10" fill="#de1f2c" stroke="#de1f2c" stroke-width="0.3" text-anchor="end">MCL1</text>
<text x="488.4" y="119.66" font-size="5.8" fill="#2020b8" stroke="#2020b8" stroke-width="0.2">4.49</text>
<text x="488.4" y="138.72" font-size="5.8" fill="#2020b8" stroke="#2020b8" stroke-width="0.2">0.00</text>
<rect x="291.20" y="140.75" width="195.80" height="22.6" fill="#fff" stroke="#0c0c0c" stroke-width="1"/>
<rect x="291.50" y="155.44" width="5.33" height="5.88" fill="#b8b0a9" stroke="#1a1a1a" stroke-width="0.9"/>
<rect x="297.43" y="158.38" width="5.33" height="2.94" fill="#b8b0a9" stroke="#1a1a1a" stroke-width="0.9"/>
<rect x="303.37" y="154.08" width="5.33" height="7.23" fill="#b8b0a9" stroke="#1a1a1a" stroke-width="0.9"/>
<rect x="309.30" y="154.08" width="5.33" height="7.23" fill="#b8b0a9" stroke="#1a1a1a" stroke-width="0.9"/>
<rect x="315.23" y="152.05" width="5.33" height="9.27" fill="#b8b0a9" stroke="#1a1a1a" stroke-width="0.9"/>
<rect x="321.17" y="161.32" width="5.33" height="1.81" fill="#b8b0a9" stroke="#1a1a1a" stroke-width="0.9"/>
<rect x="327.10" y="152.95" width="5.33" height="8.36" fill="#b8b0a9" stroke="#1a1a1a" stroke-width="0.9"/>
<rect x="333.03" y="156.12" width="5.33" height="5.20" fill="#b8b0a9" stroke="#1a1a1a" stroke-width="0.9"/>
<rect x="338.97" y="145.95" width="5.33" height="15.37" fill="#b8b0a9" stroke="#1a1a1a" stroke-width="0.9"/>
<rect x="344.90" y="149.56" width="5.33" height="11.75" fill="#b8b0a9" stroke="#1a1a1a" stroke-width="0.9"/>
<rect x="350.83" y="154.76" width="5.33" height="6.55" fill="#b8b0a9" stroke="#1a1a1a" stroke-width="0.9"/>
<rect x="356.77" y="151.60" width="5.33" height="9.72" fill="#b8b0a9" stroke="#1a1a1a" stroke-width="0.9"/>
<rect x="362.70" y="148.66" width="5.33" height="12.66" fill="#b8b0a9" stroke="#1a1a1a" stroke-width="0.9"/>
<rect x="368.63" y="154.08" width="5.33" height="7.23" fill="#b8b0a9" stroke="#1a1a1a" stroke-width="0.9"/>
<rect x="374.57" y="158.38" width="5.33" height="2.94" fill="#b8b0a9" stroke="#1a1a1a" stroke-width="0.9"/>
<rect x="380.50" y="152.95" width="5.33" height="8.36" fill="#b8b0a9" stroke="#1a1a1a" stroke-width="0.9"/>
<rect x="386.43" y="148.66" width="5.33" height="12.66" fill="#b8b0a9" stroke="#1a1a1a" stroke-width="0.9"/>
<rect x="392.37" y="154.76" width="5.33" height="6.55" fill="#b8b0a9" stroke="#1a1a1a" stroke-width="0.9"/>
<rect x="398.30" y="156.57" width="5.33" height="4.75" fill="#b8b0a9" stroke="#1a1a1a" stroke-width="0.9"/>
<rect x="404.23" y="151.60" width="5.33" height="9.72" fill="#b8b0a9" stroke="#1a1a1a" stroke-width="0.9"/>
<rect x="410.17" y="158.60" width="5.33" height="2.71" fill="#b8b0a9" stroke="#1a1a1a" stroke-width="0.9"/>
<rect x="416.10" y="152.73" width="5.33" height="8.59" fill="#b8b0a9" stroke="#1a1a1a" stroke-width="0.9"/>
<rect x="422.03" y="147.76" width="5.33" height="13.56" fill="#b8b0a9" stroke="#1a1a1a" stroke-width="0.9"/>
<rect x="427.97" y="142.56" width="5.33" height="18.76" fill="#b8b0a9" stroke="#1a1a1a" stroke-width="0.9"/>
<rect x="433.90" y="153.63" width="5.33" height="7.68" fill="#b8b0a9" stroke="#1a1a1a" stroke-width="0.9"/>
<rect x="439.83" y="157.70" width="5.33" height="3.62" fill="#b8b0a9" stroke="#1a1a1a" stroke-width="0.9"/>
<rect x="445.77" y="150.02" width="5.33" height="11.30" fill="#b8b0a9" stroke="#1a1a1a" stroke-width="0.9"/>
<rect x="451.70" y="152.73" width="5.33" height="8.59" fill="#b8b0a9" stroke="#1a1a1a" stroke-width="0.9"/>
<rect x="457.63" y="154.76" width="5.33" height="6.55" fill="#b8b0a9" stroke="#1a1a1a" stroke-width="0.9"/>
<rect x="463.57" y="148.66" width="5.33" height="12.66" fill="#b8b0a9" stroke="#1a1a1a" stroke-width="0.9"/>
<rect x="469.50" y="152.73" width="5.33" height="8.59" fill="#b8b0a9" stroke="#1a1a1a" stroke-width="0.9"/>
<rect x="475.43" y="156.34" width="5.33" height="4.97" fill="#b8b0a9" stroke="#1a1a1a" stroke-width="0.9"/>
<rect x="481.37" y="156.34" width="5.33" height="4.97" fill="#b8b0a9" stroke="#1a1a1a" stroke-width="0.9"/>
<text x="287.4" y="155.8" font-size="10" fill="#de1f2c" stroke="#de1f2c" stroke-width="0.3" text-anchor="end">IL4I1</text>
<text x="488.4" y="145.05" font-size="5.8" fill="#2020b8" stroke="#2020b8" stroke-width="0.2">2.23</text>
<text x="487.5" y="164.10" font-size="5.8" fill="#2020b8" stroke="#2020b8" stroke-width="0.2">-0.22</text>
<rect x="291.20" y="166.18" width="195.80" height="22.6" fill="#fff" stroke="#0c0c0c" stroke-width="1"/>
<rect x="291.50" y="171.15" width="5.33" height="17.18" fill="#b8b0a9" stroke="#1a1a1a" stroke-width="0.9"/>
<rect x="297.43" y="182.00" width="5.33" height="6.33" fill="#b8b0a9" stroke="#1a1a1a" stroke-width="0.9"/>
<rect x="303.37" y="176.58" width="5.33" height="11.75" fill="#b8b0a9" stroke="#1a1a1a" stroke-width="0.9"/>
<rect x="309.30" y="180.42" width="5.33" height="7.91" fill="#b8b0a9" stroke="#1a1a1a" stroke-width="0.9"/>
<rect x="315.23" y="175.45" width="5.33" height="12.88" fill="#b8b0a9" stroke="#1a1a1a" stroke-width="0.9"/>
<line x1="320.87" y1="188.33" x2="326.80" y2="188.33" stroke="#1a1a1a" stroke-width="0.9"/>
<rect x="327.10" y="179.74" width="5.33" height="8.59" fill="#b8b0a9" stroke="#1a1a1a" stroke-width="0.9"/>
<rect x="333.03" y="184.03" width="5.33" height="4.29" fill="#b8b0a9" stroke="#1a1a1a" stroke-width="0.9"/>
<rect x="338.97" y="173.41" width="5.33" height="14.92" fill="#b8b0a9" stroke="#1a1a1a" stroke-width="0.9"/>
<rect x="344.90" y="172.51" width="5.33" height="15.82" fill="#b8b0a9" stroke="#1a1a1a" stroke-width="0.9"/>
<rect x="350.83" y="177.03" width="5.33" height="11.30" fill="#b8b0a9" stroke="#1a1a1a" stroke-width="0.9"/>
<rect x="356.77" y="172.06" width="5.33" height="16.27" fill="#b8b0a9" stroke="#1a1a1a" stroke-width="0.9"/>
<rect x="362.70" y="169.57" width="5.33" height="18.76" fill="#b8b0a9" stroke="#1a1a1a" stroke-width="0.9"/>
<rect x="368.63" y="171.15" width="5.33" height="17.18" fill="#b8b0a9" stroke="#1a1a1a" stroke-width="0.9"/>
<rect x="374.57" y="179.74" width="5.33" height="8.59" fill="#b8b0a9" stroke="#1a1a1a" stroke-width="0.9"/>
<rect x="380.50" y="180.64" width="5.33" height="7.68" fill="#b8b0a9" stroke="#1a1a1a" stroke-width="0.9"/>
<rect x="386.43" y="174.54" width="5.33" height="13.79" fill="#b8b0a9" stroke="#1a1a1a" stroke-width="0.9"/>
<rect x="392.37" y="176.12" width="5.33" height="12.20" fill="#b8b0a9" stroke="#1a1a1a" stroke-width="0.9"/>
<rect x="398.30" y="179.74" width="5.33" height="8.59" fill="#b8b0a9" stroke="#1a1a1a" stroke-width="0.9"/>
<rect x="404.23" y="175.45" width="5.33" height="12.88" fill="#b8b0a9" stroke="#1a1a1a" stroke-width="0.9"/>
<rect x="410.17" y="179.74" width="5.33" height="8.59" fill="#b8b0a9" stroke="#1a1a1a" stroke-width="0.9"/>
<rect x="416.10" y="173.64" width="5.33" height="14.69" fill="#b8b0a9" stroke="#1a1a1a" stroke-width="0.9"/>
<rect x="422.03" y="175.45" width="5.33" height="12.88" fill="#b8b0a9" stroke="#1a1a1a" stroke-width="0.9"/>
<rect x="427.97" y="177.48" width="5.33" height="10.85" fill="#b8b0a9" stroke="#1a1a1a" stroke-width="0.9"/>
<rect x="433.90" y="171.38" width="5.33" height="16.95" fill="#b8b0a9" stroke="#1a1a1a" stroke-width="0.9"/>
<rect x="439.83" y="177.03" width="5.33" height="11.30" fill="#b8b0a9" stroke="#1a1a1a" stroke-width="0.9"/>
<rect x="445.77" y="179.74" width="5.33" height="8.59" fill="#b8b0a9" stroke="#1a1a1a" stroke-width="0.9"/>
<rect x="451.70" y="178.61" width="5.33" height="9.72" fill="#b8b0a9" stroke="#1a1a1a" stroke-width="0.9"/>
<rect x="457.63" y="174.54" width="5.33" height="13.79" fill="#b8b0a9" stroke="#1a1a1a" stroke-width="0.9"/>
<rect x="463.57" y="179.74" width="5.33" height="8.59" fill="#b8b0a9" stroke="#1a1a1a" stroke-width="0.9"/>
<rect x="469.50" y="168.67" width="5.33" height="19.66" fill="#b8b0a9" stroke="#1a1a1a" stroke-width="0.9"/>
<rect x="475.43" y="168.67" width="5.33" height="19.66" fill="#b8b0a9" stroke="#1a1a1a" stroke-width="0.9"/>
<rect x="481.37" y="184.03" width="5.33" height="4.29" fill="#b8b0a9" stroke="#1a1a1a" stroke-width="0.9"/>
<text x="286.8" y="180.85" font-size="10" fill="#de1f2c" stroke="#de1f2c" stroke-width="0.3" text-anchor="end">ZFP90</text>
<text x="488.4" y="170.44" font-size="5.8" fill="#2020b8" stroke="#2020b8" stroke-width="0.2">1.52</text>
<text x="487.5" y="189.48" font-size="5.8" fill="#2020b8" stroke="#2020b8" stroke-width="0.2">-0.03</text>
<rect x="291.20" y="191.61" width="195.80" height="22.6" fill="#fff" stroke="#0c0c0c" stroke-width="1"/>
<rect x="291.50" y="204.49" width="5.33" height="9.72" fill="#b8b0a9" stroke="#1a1a1a" stroke-width="0.9"/>
<rect x="297.43" y="206.53" width="5.33" height="7.68" fill="#b8b0a9" stroke="#1a1a1a" stroke-width="0.9"/>
<rect x="303.37" y="209.69" width="5.33" height="4.52" fill="#b8b0a9" stroke="#1a1a1a" stroke-width="0.9"/>
<rect x="309.30" y="206.07" width="5.33" height="8.14" fill="#b8b0a9" stroke="#1a1a1a" stroke-width="0.9"/>
<rect x="315.23" y="206.98" width="5.33" height="7.23" fill="#b8b0a9" stroke="#1a1a1a" stroke-width="0.9"/>
<rect x="321.17" y="195.68" width="5.33" height="18.53" fill="#b8b0a9" stroke="#1a1a1a" stroke-width="0.9"/>
<rect x="327.10" y="209.01" width="5.33" height="5.20" fill="#b8b0a9" stroke="#1a1a1a" stroke-width="0.9"/>
<rect x="333.03" y="206.98" width="5.33" height="7.23" fill="#b8b0a9" stroke="#1a1a1a" stroke-width="0.9"/>
<rect x="338.97" y="210.59" width="5.33" height="3.62" fill="#b8b0a9" stroke="#1a1a1a" stroke-width="0.9"/>
<rect x="344.90" y="207.66" width="5.33" height="6.55" fill="#b8b0a9" stroke="#1a1a1a" stroke-width="0.9"/>
<rect x="350.83" y="205.17" width="5.33" height="9.04" fill="#b8b0a9" stroke="#1a1a1a" stroke-width="0.9"/>
<rect x="356.77" y="204.49" width="5.33" height="9.72" fill="#b8b0a9" stroke="#1a1a1a" stroke-width="0.9"/>
<rect x="362.70" y="207.66" width="5.33" height="6.55" fill="#b8b0a9" stroke="#1a1a1a" stroke-width="0.9"/>
<rect x="368.63" y="204.49" width="5.33" height="9.72" fill="#b8b0a9" stroke="#1a1a1a" stroke-width="0.9"/>
<rect x="374.57" y="209.69" width="5.33" height="4.52" fill="#b8b0a9" stroke="#1a1a1a" stroke-width="0.9"/>
<rect x="380.50" y="208.79" width="5.33" height="5.42" fill="#b8b0a9" stroke="#1a1a1a" stroke-width="0.9"/>
<rect x="386.43" y="198.39" width="5.33" height="15.82" fill="#b8b0a9" stroke="#1a1a1a" stroke-width="0.9"/>
<rect x="392.37" y="197.71" width="5.33" height="16.50" fill="#b8b0a9" stroke="#1a1a1a" stroke-width="0.9"/>
<rect x="398.30" y="208.11" width="5.33" height="6.10" fill="#b8b0a9" stroke="#1a1a1a" stroke-width="0.9"/>
<rect x="404.23" y="193.42" width="5.33" height="20.79" fill="#b8b0a9" stroke="#1a1a1a" stroke-width="0.9"/>
<rect x="410.17" y="206.53" width="5.33" height="7.68" fill="#b8b0a9" stroke="#1a1a1a" stroke-width="0.9"/>
<rect x="416.10" y="200.20" width="5.33" height="14.01" fill="#b8b0a9" stroke="#1a1a1a" stroke-width="0.9"/>
<rect x="422.03" y="201.10" width="5.33" height="13.11" fill="#b8b0a9" stroke="#1a1a1a" stroke-width="0.9"/>
<rect x="427.97" y="204.49" width="5.33" height="9.72" fill="#b8b0a9" stroke="#1a1a1a" stroke-width="0.9"/>
<rect x="433.90" y="206.53" width="5.33" height="7.68" fill="#b8b0a9" stroke="#1a1a1a" stroke-width="0.9"/>
<rect x="439.83" y="206.53" width="5.33" height="7.68" fill="#b8b0a9" stroke="#1a1a1a" stroke-width="0.9"/>
<rect x="445.77" y="204.49" width="5.33" height="9.72" fill="#b8b0a9" stroke="#1a1a1a" stroke-width="0.9"/>
<rect x="451.70" y="205.40" width="5.33" height="8.81" fill="#b8b0a9" stroke="#1a1a1a" stroke-width="0.9"/>
<rect x="457.63" y="198.39" width="5.33" height="15.82" fill="#b8b0a9" stroke="#1a1a1a" stroke-width="0.9"/>
<rect x="463.57" y="201.55" width="5.33" height="12.66" fill="#b8b0a9" stroke="#1a1a1a" stroke-width="0.9"/>
<rect x="469.50" y="199.52" width="5.33" height="14.69" fill="#b8b0a9" stroke="#1a1a1a" stroke-width="0.9"/>
<rect x="475.43" y="205.40" width="5.33" height="8.81" fill="#b8b0a9" stroke="#1a1a1a" stroke-width="0.9"/>
<rect x="481.37" y="206.98" width="5.33" height="7.23" fill="#b8b0a9" stroke="#1a1a1a" stroke-width="0.9"/>
<text x="287.3" y="207.3" font-size="10" fill="#de1f2c" stroke="#de1f2c" stroke-width="0.3" text-anchor="end">CDK1B</text>
<text x="488.4" y="195.83" font-size="5.8" fill="#2020b8" stroke="#2020b8" stroke-width="0.2">2.17</text>
<text x="488.4" y="214.86" font-size="5.8" fill="#2020b8" stroke="#2020b8" stroke-width="0.2">0.00</text>
<rect x="291.20" y="217.04" width="195.80" height="22.6" fill="#fff" stroke="#0c0c0c" stroke-width="1"/>
<rect x="291.50" y="231.73" width="5.33" height="7.46" fill="#b8b0a9" stroke="#1a1a1a" stroke-width="0.9"/>
<rect x="297.43" y="228.11" width="5.33" height="11.07" fill="#b8b0a9" stroke="#1a1a1a" stroke-width="0.9"/>
<rect x="303.37" y="232.41" width="5.33" height="6.78" fill="#b8b0a9" stroke="#1a1a1a" stroke-width="0.9"/>
<rect x="309.30" y="230.83" width="5.33" height="8.36" fill="#b8b0a9" stroke="#1a1a1a" stroke-width="0.9"/>
<rect x="315.23" y="237.61" width="5.33" height="1.58" fill="#b8b0a9" stroke="#1a1a1a" stroke-width="0.9"/>
<rect x="321.17" y="229.02" width="5.33" height="10.17" fill="#b8b0a9" stroke="#1a1a1a" stroke-width="0.9"/>
<line x1="326.80" y1="239.19" x2="332.73" y2="239.19" stroke="#1a1a1a" stroke-width="0.9"/>
<rect x="333.03" y="230.83" width="5.33" height="8.36" fill="#b8b0a9" stroke="#1a1a1a" stroke-width="0.9"/>
<rect x="338.97" y="235.80" width="5.33" height="3.39" fill="#b8b0a9" stroke="#1a1a1a" stroke-width="0.9"/>
<rect x="344.90" y="231.73" width="5.33" height="7.46" fill="#b8b0a9" stroke="#1a1a1a" stroke-width="0.9"/>
<rect x="350.83" y="237.61" width="5.33" height="1.58" fill="#b8b0a9" stroke="#1a1a1a" stroke-width="0.9"/>
<rect x="356.77" y="229.02" width="5.33" height="10.17" fill="#b8b0a9" stroke="#1a1a1a" stroke-width="0.9"/>
<rect x="362.70" y="236.70" width="5.33" height="2.49" fill="#b8b0a9" stroke="#1a1a1a" stroke-width="0.9"/>
<rect x="368.63" y="234.22" width="5.33" height="4.97" fill="#b8b0a9" stroke="#1a1a1a" stroke-width="0.9"/>
<line x1="374.27" y1="239.19" x2="380.20" y2="239.19" stroke="#1a1a1a" stroke-width="0.9"/>
<rect x="380.50" y="229.02" width="5.33" height="10.17" fill="#b8b0a9" stroke="#1a1a1a" stroke-width="0.9"/>
<rect x="386.43" y="219.07" width="5.33" height="20.11" fill="#b8b0a9" stroke="#1a1a1a" stroke-width="0.9"/>
<rect x="392.37" y="235.12" width="5.33" height="4.07" fill="#b8b0a9" stroke="#1a1a1a" stroke-width="0.9"/>
<rect x="398.30" y="233.09" width="5.33" height="6.10" fill="#b8b0a9" stroke="#1a1a1a" stroke-width="0.9"/>
<rect x="404.23" y="221.56" width="5.33" height="17.63" fill="#b8b0a9" stroke="#1a1a1a" stroke-width="0.9"/>
<rect x="410.17" y="227.21" width="5.33" height="11.98" fill="#b8b0a9" stroke="#1a1a1a" stroke-width="0.9"/>
<rect x="416.10" y="224.05" width="5.33" height="15.14" fill="#b8b0a9" stroke="#1a1a1a" stroke-width="0.9"/>
<rect x="422.03" y="229.47" width="5.33" height="9.72" fill="#b8b0a9" stroke="#1a1a1a" stroke-width="0.9"/>
<rect x="427.97" y="229.47" width="5.33" height="9.72" fill="#b8b0a9" stroke="#1a1a1a" stroke-width="0.9"/>
<rect x="433.90" y="235.12" width="5.33" height="4.07" fill="#b8b0a9" stroke="#1a1a1a" stroke-width="0.9"/>
<rect x="439.83" y="227.44" width="5.33" height="11.75" fill="#b8b0a9" stroke="#1a1a1a" stroke-width="0.9"/>
<rect x="445.77" y="230.83" width="5.33" height="8.36" fill="#b8b0a9" stroke="#1a1a1a" stroke-width="0.9"/>
<rect x="451.70" y="225.63" width="5.33" height="13.56" fill="#b8b0a9" stroke="#1a1a1a" stroke-width="0.9"/>
<rect x="457.63" y="234.67" width="5.33" height="4.52" fill="#b8b0a9" stroke="#1a1a1a" stroke-width="0.9"/>
<rect x="463.57" y="232.41" width="5.33" height="6.78" fill="#b8b0a9" stroke="#1a1a1a" stroke-width="0.9"/>
<rect x="469.50" y="236.70" width="5.33" height="2.49" fill="#b8b0a9" stroke="#1a1a1a" stroke-width="0.9"/>
<rect x="475.43" y="231.73" width="5.33" height="7.46" fill="#b8b0a9" stroke="#1a1a1a" stroke-width="0.9"/>
<line x1="481.07" y1="239.19" x2="487.00" y2="239.19" stroke="#1a1a1a" stroke-width="0.9"/>
<text x="287" y="233.3" font-size="10" fill="#de1f2c" stroke="#de1f2c" stroke-width="0.3" text-anchor="end">GNAZ</text>
<text x="488.4" y="221.22" font-size="5.8" fill="#2020b8" stroke="#2020b8" stroke-width="0.2">2.14</text>
<text x="487.5" y="240.24" font-size="5.8" fill="#2020b8" stroke="#2020b8" stroke-width="0.2">-0.04</text>
<rect x="291.20" y="242.47" width="195.80" height="22.6" fill="#fff" stroke="#0c0c0c" stroke-width="1"/>
<rect x="291.50" y="248.57" width="5.33" height="11.07" fill="#b8b0a9" stroke="#1a1a1a" stroke-width="0.9"/>
<rect x="297.43" y="250.61" width="5.33" height="9.04" fill="#b8b0a9" stroke="#1a1a1a" stroke-width="0.9"/>
<rect x="303.37" y="254.67" width="5.33" height="4.97" fill="#b8b0a9" stroke="#1a1a1a" stroke-width="0.9"/>
<rect x="309.30" y="248.57" width="5.33" height="11.07" fill="#b8b0a9" stroke="#1a1a1a" stroke-width="0.9"/>
<rect x="315.23" y="255.58" width="5.33" height="4.07" fill="#b8b0a9" stroke="#1a1a1a" stroke-width="0.9"/>
<line x1="320.87" y1="259.65" x2="326.80" y2="259.65" stroke="#1a1a1a" stroke-width="0.9"/>
<rect x="327.10" y="246.76" width="5.33" height="12.88" fill="#b8b0a9" stroke="#1a1a1a" stroke-width="0.9"/>
<rect x="333.03" y="251.51" width="5.33" height="8.14" fill="#b8b0a9" stroke="#1a1a1a" stroke-width="0.9"/>
<rect x="338.97" y="250.61" width="5.33" height="9.04" fill="#b8b0a9" stroke="#1a1a1a" stroke-width="0.9"/>
<rect x="344.90" y="259.65" width="5.33" height="5.42" fill="#b8b0a9" stroke="#1a1a1a" stroke-width="0.9"/>
<rect x="350.83" y="256.48" width="5.33" height="3.16" fill="#b8b0a9" stroke="#1a1a1a" stroke-width="0.9"/>
<rect x="356.77" y="246.76" width="5.33" height="12.88" fill="#b8b0a9" stroke="#1a1a1a" stroke-width="0.9"/>
<rect x="362.70" y="245.18" width="5.33" height="14.46" fill="#b8b0a9" stroke="#1a1a1a" stroke-width="0.9"/>
<rect x="368.63" y="257.61" width="5.33" height="2.03" fill="#b8b0a9" stroke="#1a1a1a" stroke-width="0.9"/>
<rect x="374.57" y="250.61" width="5.33" height="9.04" fill="#b8b0a9" stroke="#1a1a1a" stroke-width="0.9"/>
<rect x="380.50" y="253.77" width="5.33" height="5.88" fill="#b8b0a9" stroke="#1a1a1a" stroke-width="0.9"/>
<rect x="386.43" y="258.52" width="5.33" height="1.13" fill="#b8b0a9" stroke="#1a1a1a" stroke-width="0.9"/>
<rect x="392.37" y="256.71" width="5.33" height="2.94" fill="#b8b0a9" stroke="#1a1a1a" stroke-width="0.9"/>
<line x1="398.00" y1="259.65" x2="403.93" y2="259.65" stroke="#1a1a1a" stroke-width="0.9"/>
<rect x="404.23" y="255.58" width="5.33" height="4.07" fill="#b8b0a9" stroke="#1a1a1a" stroke-width="0.9"/>
<rect x="410.17" y="251.06" width="5.33" height="8.59" fill="#b8b0a9" stroke="#1a1a1a" stroke-width="0.9"/>
<rect x="416.10" y="250.61" width="5.33" height="9.04" fill="#b8b0a9" stroke="#1a1a1a" stroke-width="0.9"/>
<rect x="422.03" y="247.44" width="5.33" height="12.20" fill="#b8b0a9" stroke="#1a1a1a" stroke-width="0.9"/>
<rect x="427.97" y="257.61" width="5.33" height="2.03" fill="#b8b0a9" stroke="#1a1a1a" stroke-width="0.9"/>
<rect x="433.90" y="258.74" width="5.33" height="0.90" fill="#b8b0a9" stroke="#1a1a1a" stroke-width="0.9"/>
<rect x="439.83" y="258.74" width="5.33" height="0.90" fill="#b8b0a9" stroke="#1a1a1a" stroke-width="0.9"/>
<rect x="445.77" y="248.12" width="5.33" height="11.53" fill="#b8b0a9" stroke="#1a1a1a" stroke-width="0.9"/>
<rect x="451.70" y="244.50" width="5.33" height="15.14" fill="#b8b0a9" stroke="#1a1a1a" stroke-width="0.9"/>
<rect x="457.63" y="246.54" width="5.33" height="13.11" fill="#b8b0a9" stroke="#1a1a1a" stroke-width="0.9"/>
<rect x="463.57" y="250.61" width="5.33" height="9.04" fill="#b8b0a9" stroke="#1a1a1a" stroke-width="0.9"/>
<rect x="469.50" y="257.61" width="5.33" height="2.03" fill="#b8b0a9" stroke="#1a1a1a" stroke-width="0.9"/>
<rect x="475.43" y="258.74" width="5.33" height="0.90" fill="#b8b0a9" stroke="#1a1a1a" stroke-width="0.9"/>
<rect x="481.37" y="245.86" width="5.33" height="13.79" fill="#b8b0a9" stroke="#1a1a1a" stroke-width="0.9"/>
<text x="286.2" y="257.9" font-size="10" fill="#de1f2c" stroke="#de1f2c" stroke-width="0.3" text-anchor="end">RAB33A</text>
<text x="488.4" y="246.61" font-size="5.8" fill="#2020b8" stroke="#2020b8" stroke-width="0.2">1.26</text>
<text x="487.5" y="265.62" font-size="5.8" fill="#2020b8" stroke="#2020b8" stroke-width="0.2">-0.41</text>
<rect x="291.20" y="267.90" width="195.80" height="22.6" fill="#fff" stroke="#0c0c0c" stroke-width="1"/>
<rect x="291.50" y="286.43" width="5.33" height="2.80" fill="#b8b0a9" stroke="#1a1a1a" stroke-width="0.9"/>
<rect x="297.43" y="286.43" width="5.33" height="2.80" fill="#b8b0a9" stroke="#1a1a1a" stroke-width="0.9"/>
<rect x="303.37" y="285.75" width="5.33" height="3.48" fill="#b8b0a9" stroke="#1a1a1a" stroke-width="0.9"/>
<rect x="309.30" y="284.62" width="5.33" height="4.61" fill="#b8b0a9" stroke="#1a1a1a" stroke-width="0.9"/>
<rect x="315.23" y="285.75" width="5.33" height="3.48" fill="#b8b0a9" stroke="#1a1a1a" stroke-width="0.9"/>
<rect x="321.17" y="269.48" width="5.33" height="19.75" fill="#b8b0a9" stroke="#1a1a1a" stroke-width="0.9"/>
<rect x="327.10" y="285.75" width="5.33" height="3.48" fill="#b8b0a9" stroke="#1a1a1a" stroke-width="0.9"/>
<rect x="333.03" y="283.04" width="5.33" height="6.19" fill="#b8b0a9" stroke="#1a1a1a" stroke-width="0.9"/>
<line x1="338.67" y1="289.23" x2="344.60" y2="289.23" stroke="#1a1a1a" stroke-width="0.9"/>
<line x1="344.60" y1="289.23" x2="350.53" y2="289.23" stroke="#1a1a1a" stroke-width="0.9"/>
<rect x="350.83" y="287.11" width="5.33" height="2.12" fill="#b8b0a9" stroke="#1a1a1a" stroke-width="0.9"/>
<rect x="356.77" y="284.62" width="5.33" height="4.61" fill="#b8b0a9" stroke="#1a1a1a" stroke-width="0.9"/>
<rect x="362.70" y="287.79" width="5.33" height="1.45" fill="#b8b0a9" stroke="#1a1a1a" stroke-width="0.9"/>
<line x1="368.33" y1="289.23" x2="374.27" y2="289.23" stroke="#1a1a1a" stroke-width="0.9"/>
<rect x="374.57" y="287.56" width="5.33" height="1.67" fill="#b8b0a9" stroke="#1a1a1a" stroke-width="0.9"/>
<line x1="380.20" y1="289.23" x2="386.13" y2="289.23" stroke="#1a1a1a" stroke-width="0.9"/>
<rect x="386.43" y="283.72" width="5.33" height="5.51" fill="#b8b0a9" stroke="#1a1a1a" stroke-width="0.9"/>
<rect x="392.37" y="283.04" width="5.33" height="6.19" fill="#b8b0a9" stroke="#1a1a1a" stroke-width="0.9"/>
<rect x="398.30" y="280.78" width="5.33" height="8.45" fill="#b8b0a9" stroke="#1a1a1a" stroke-width="0.9"/>
<rect x="404.23" y="282.59" width="5.33" height="6.64" fill="#b8b0a9" stroke="#1a1a1a" stroke-width="0.9"/>
<rect x="410.17" y="280.78" width="5.33" height="8.45" fill="#b8b0a9" stroke="#1a1a1a" stroke-width="0.9"/>
<rect x="416.10" y="284.62" width="5.33" height="4.61" fill="#b8b0a9" stroke="#1a1a1a" stroke-width="0.9"/>
<rect x="422.03" y="286.21" width="5.33" height="3.03" fill="#b8b0a9" stroke="#1a1a1a" stroke-width="0.9"/>
<rect x="427.97" y="273.78" width="5.33" height="15.46" fill="#b8b0a9" stroke="#1a1a1a" stroke-width="0.9"/>
<line x1="433.60" y1="289.23" x2="439.53" y2="289.23" stroke="#1a1a1a" stroke-width="0.9"/>
<line x1="439.53" y1="289.23" x2="445.47" y2="289.23" stroke="#1a1a1a" stroke-width="0.9"/>
<line x1="445.47" y1="289.23" x2="451.40" y2="289.23" stroke="#1a1a1a" stroke-width="0.9"/>
<rect x="451.70" y="278.07" width="5.33" height="11.16" fill="#b8b0a9" stroke="#1a1a1a" stroke-width="0.9"/>
<line x1="457.33" y1="289.23" x2="463.27" y2="289.23" stroke="#1a1a1a" stroke-width="0.9"/>
<rect x="463.57" y="286.43" width="5.33" height="2.80" fill="#b8b0a9" stroke="#1a1a1a" stroke-width="0.9"/>
<rect x="469.50" y="284.62" width="5.33" height="4.61" fill="#b8b0a9" stroke="#1a1a1a" stroke-width="0.9"/>
<rect x="475.43" y="287.56" width="5.33" height="1.67" fill="#b8b0a9" stroke="#1a1a1a" stroke-width="0.9"/>
<rect x="481.37" y="285.75" width="5.33" height="3.48" fill="#b8b0a9" stroke="#1a1a1a" stroke-width="0.9"/>
<text x="286.4" y="283.0" font-size="10" fill="#de1f2c" stroke="#de1f2c" stroke-width="0.3" text-anchor="end">CCNB3</text>
<text x="488.4" y="272.00" font-size="5.8" fill="#2020b8" stroke="#2020b8" stroke-width="0.2">2.18</text>
<text x="487.5" y="291.00" font-size="5.8" fill="#2020b8" stroke="#2020b8" stroke-width="0.2">-0.13</text>
<rect x="291.20" y="293.33" width="195.80" height="22.6" fill="#fff" stroke="#0c0c0c" stroke-width="1"/>
<line x1="291.20" y1="311.52" x2="297.13" y2="311.52" stroke="#1a1a1a" stroke-width="0.9"/>
<line x1="297.13" y1="311.52" x2="303.07" y2="311.52" stroke="#1a1a1a" stroke-width="0.9"/>
<rect x="303.37" y="309.60" width="5.33" height="1.92" fill="#b8b0a9" stroke="#1a1a1a" stroke-width="0.9"/>
<line x1="309.00" y1="311.52" x2="314.93" y2="311.52" stroke="#1a1a1a" stroke-width="0.9"/>
<rect x="315.23" y="309.60" width="5.33" height="1.92" fill="#b8b0a9" stroke="#1a1a1a" stroke-width="0.9"/>
<rect x="321.17" y="295.59" width="5.33" height="15.93" fill="#b8b0a9" stroke="#1a1a1a" stroke-width="0.9"/>
<rect x="327.10" y="308.47" width="5.33" height="3.05" fill="#b8b0a9" stroke="#1a1a1a" stroke-width="0.9"/>
<rect x="333.03" y="306.66" width="5.33" height="4.86" fill="#b8b0a9" stroke="#1a1a1a" stroke-width="0.9"/>
<rect x="338.97" y="311.52" width="5.33" height="3.05" fill="#b8b0a9" stroke="#1a1a1a" stroke-width="0.9"/>
<rect x="344.90" y="309.60" width="5.33" height="1.92" fill="#b8b0a9" stroke="#1a1a1a" stroke-width="0.9"/>
<rect x="350.83" y="307.57" width="5.33" height="3.96" fill="#b8b0a9" stroke="#1a1a1a" stroke-width="0.9"/>
<rect x="356.77" y="311.52" width="5.33" height="0.56" fill="#b8b0a9" stroke="#1a1a1a" stroke-width="0.9"/>
<rect x="362.70" y="306.66" width="5.33" height="4.86" fill="#b8b0a9" stroke="#1a1a1a" stroke-width="0.9"/>
<line x1="368.33" y1="311.52" x2="374.27" y2="311.52" stroke="#1a1a1a" stroke-width="0.9"/>
<line x1="374.27" y1="311.52" x2="380.20" y2="311.52" stroke="#1a1a1a" stroke-width="0.9"/>
<rect x="380.50" y="311.52" width="5.33" height="0.56" fill="#b8b0a9" stroke="#1a1a1a" stroke-width="0.9"/>
<rect x="386.43" y="310.51" width="5.33" height="1.02" fill="#b8b0a9" stroke="#1a1a1a" stroke-width="0.9"/>
<rect x="392.37" y="309.60" width="5.33" height="1.92" fill="#b8b0a9" stroke="#1a1a1a" stroke-width="0.9"/>
<rect x="398.30" y="311.52" width="5.33" height="1.02" fill="#b8b0a9" stroke="#1a1a1a" stroke-width="0.9"/>
<line x1="403.93" y1="311.52" x2="409.87" y2="311.52" stroke="#1a1a1a" stroke-width="0.9"/>
<line x1="409.87" y1="311.52" x2="415.80" y2="311.52" stroke="#1a1a1a" stroke-width="0.9"/>
<rect x="416.10" y="311.52" width="5.33" height="3.62" fill="#b8b0a9" stroke="#1a1a1a" stroke-width="0.9"/>
<rect x="422.03" y="309.60" width="5.33" height="1.92" fill="#b8b0a9" stroke="#1a1a1a" stroke-width="0.9"/>
<rect x="427.97" y="296.27" width="5.33" height="15.25" fill="#b8b0a9" stroke="#1a1a1a" stroke-width="0.9"/>
<line x1="433.60" y1="311.52" x2="439.53" y2="311.52" stroke="#1a1a1a" stroke-width="0.9"/>
<rect x="439.83" y="311.52" width="5.33" height="2.60" fill="#b8b0a9" stroke="#1a1a1a" stroke-width="0.9"/>
<rect x="445.77" y="311.52" width="5.33" height="2.15" fill="#b8b0a9" stroke="#1a1a1a" stroke-width="0.9"/>
<rect x="451.70" y="310.05" width="5.33" height="1.47" fill="#b8b0a9" stroke="#1a1a1a" stroke-width="0.9"/>
<rect x="457.63" y="311.52" width="5.33" height="3.62" fill="#b8b0a9" stroke="#1a1a1a" stroke-width="0.9"/>
<rect x="463.57" y="306.21" width="5.33" height="5.31" fill="#b8b0a9" stroke="#1a1a1a" stroke-width="0.9"/>
<rect x="469.50" y="308.47" width="5.33" height="3.05" fill="#b8b0a9" stroke="#1a1a1a" stroke-width="0.9"/>
<line x1="475.13" y1="311.52" x2="481.07" y2="311.52" stroke="#1a1a1a" stroke-width="0.9"/>
<rect x="481.37" y="307.79" width="5.33" height="3.73" fill="#b8b0a9" stroke="#1a1a1a" stroke-width="0.9"/>
<text x="287" y="307.5" font-size="10" fill="#de1f2c" stroke="#de1f2c" stroke-width="0.3" text-anchor="end">NFIL3</text>
<text x="488.4" y="297.39" font-size="5.8" fill="#2020b8" stroke="#2020b8" stroke-width="0.2">1.98</text>
<text x="487.5" y="316.38" font-size="5.8" fill="#2020b8" stroke="#2020b8" stroke-width="0.2">-0.48</text>
<rect x="291.20" y="318.76" width="195.80" height="22.6" fill="#fff" stroke="#0c0c0c" stroke-width="1"/>
<rect x="291.50" y="330.51" width="5.33" height="2.71" fill="#b8b0a9" stroke="#1a1a1a" stroke-width="0.9"/>
<line x1="297.13" y1="330.51" x2="303.07" y2="330.51" stroke="#1a1a1a" stroke-width="0.9"/>
<rect x="303.37" y="320.57" width="5.33" height="9.94" fill="#b8b0a9" stroke="#1a1a1a" stroke-width="0.9"/>
<rect x="309.30" y="323.28" width="5.33" height="7.23" fill="#b8b0a9" stroke="#1a1a1a" stroke-width="0.9"/>
<rect x="315.23" y="329.16" width="5.33" height="1.36" fill="#b8b0a9" stroke="#1a1a1a" stroke-width="0.9"/>
<rect x="321.17" y="326.22" width="5.33" height="4.29" fill="#b8b0a9" stroke="#1a1a1a" stroke-width="0.9"/>
<rect x="327.10" y="330.51" width="5.33" height="7.68" fill="#b8b0a9" stroke="#1a1a1a" stroke-width="0.9"/>
<rect x="333.03" y="330.51" width="5.33" height="1.58" fill="#b8b0a9" stroke="#1a1a1a" stroke-width="0.9"/>
<line x1="338.67" y1="330.51" x2="344.60" y2="330.51" stroke="#1a1a1a" stroke-width="0.9"/>
<rect x="344.90" y="328.70" width="5.33" height="1.81" fill="#b8b0a9" stroke="#1a1a1a" stroke-width="0.9"/>
<rect x="350.83" y="330.51" width="5.33" height="4.07" fill="#b8b0a9" stroke="#1a1a1a" stroke-width="0.9"/>
<rect x="356.77" y="325.77" width="5.33" height="4.75" fill="#b8b0a9" stroke="#1a1a1a" stroke-width="0.9"/>
<rect x="362.70" y="330.51" width="5.33" height="8.59" fill="#b8b0a9" stroke="#1a1a1a" stroke-width="0.9"/>
<rect x="368.63" y="327.57" width="5.33" height="2.94" fill="#b8b0a9" stroke="#1a1a1a" stroke-width="0.9"/>
<rect x="374.57" y="329.83" width="5.33" height="0.68" fill="#b8b0a9" stroke="#1a1a1a" stroke-width="0.9"/>
<rect x="380.50" y="330.51" width="5.33" height="10.17" fill="#b8b0a9" stroke="#1a1a1a" stroke-width="0.9"/>
<line x1="386.13" y1="330.51" x2="392.07" y2="330.51" stroke="#1a1a1a" stroke-width="0.9"/>
<rect x="392.37" y="330.51" width="5.33" height="3.62" fill="#b8b0a9" stroke="#1a1a1a" stroke-width="0.9"/>
<rect x="398.30" y="320.57" width="5.33" height="9.94" fill="#b8b0a9" stroke="#1a1a1a" stroke-width="0.9"/>
<rect x="404.23" y="326.22" width="5.33" height="4.29" fill="#b8b0a9" stroke="#1a1a1a" stroke-width="0.9"/>
<rect x="410.17" y="328.70" width="5.33" height="1.81" fill="#b8b0a9" stroke="#1a1a1a" stroke-width="0.9"/>
<rect x="416.10" y="330.51" width="5.33" height="1.58" fill="#b8b0a9" stroke="#1a1a1a" stroke-width="0.9"/>
<rect x="422.03" y="326.67" width="5.33" height="3.84" fill="#b8b0a9" stroke="#1a1a1a" stroke-width="0.9"/>
<line x1="427.67" y1="330.51" x2="433.60" y2="330.51" stroke="#1a1a1a" stroke-width="0.9"/>
<rect x="433.90" y="328.70" width="5.33" height="1.81" fill="#b8b0a9" stroke="#1a1a1a" stroke-width="0.9"/>
<rect x="439.83" y="325.77" width="5.33" height="4.75" fill="#b8b0a9" stroke="#1a1a1a" stroke-width="0.9"/>
<rect x="445.77" y="330.51" width="5.33" height="2.71" fill="#b8b0a9" stroke="#1a1a1a" stroke-width="0.9"/>
<rect x="451.70" y="330.51" width="5.33" height="6.10" fill="#b8b0a9" stroke="#1a1a1a" stroke-width="0.9"/>
<rect x="457.63" y="327.57" width="5.33" height="2.94" fill="#b8b0a9" stroke="#1a1a1a" stroke-width="0.9"/>
<rect x="463.57" y="323.28" width="5.33" height="7.23" fill="#b8b0a9" stroke="#1a1a1a" stroke-width="0.9"/>
<rect x="469.50" y="326.67" width="5.33" height="3.84" fill="#b8b0a9" stroke="#1a1a1a" stroke-width="0.9"/>
<rect x="475.43" y="323.28" width="5.33" height="7.23" fill="#b8b0a9" stroke="#1a1a1a" stroke-width="0.9"/>
<line x1="481.07" y1="330.51" x2="487.00" y2="330.51" stroke="#1a1a1a" stroke-width="0.9"/>
<text x="286.4" y="333.3" font-size="10" fill="#de1f2c" stroke="#de1f2c" stroke-width="0.3" text-anchor="end">ATF3</text>
<text x="488.4" y="322.78" font-size="5.8" fill="#2020b8" stroke="#2020b8" stroke-width="0.2">1.83</text>
<text x="487.5" y="341.76" font-size="5.8" fill="#2020b8" stroke="#2020b8" stroke-width="0.2">-1.82</text>
<rect x="291.20" y="344.19" width="195.80" height="22.6" fill="#fff" stroke="#0c0c0c" stroke-width="1"/>
<rect x="291.50" y="353.23" width="5.33" height="3.48" fill="#b8b0a9" stroke="#1a1a1a" stroke-width="0.9"/>
<rect x="297.43" y="356.71" width="5.33" height="6.92" fill="#b8b0a9" stroke="#1a1a1a" stroke-width="0.9"/>
<line x1="303.07" y1="356.71" x2="309.00" y2="356.71" stroke="#1a1a1a" stroke-width="0.9"/>
<rect x="309.30" y="346.68" width="5.33" height="10.03" fill="#b8b0a9" stroke="#1a1a1a" stroke-width="0.9"/>
<rect x="315.23" y="356.71" width="5.33" height="9.40" fill="#b8b0a9" stroke="#1a1a1a" stroke-width="0.9"/>
<line x1="320.87" y1="356.71" x2="326.80" y2="356.71" stroke="#1a1a1a" stroke-width="0.9"/>
<rect x="327.10" y="356.71" width="5.33" height="7.59" fill="#b8b0a9" stroke="#1a1a1a" stroke-width="0.9"/>
<rect x="333.03" y="356.71" width="5.33" height="3.53" fill="#b8b0a9" stroke="#1a1a1a" stroke-width="0.9"/>
<rect x="338.97" y="356.71" width="5.33" height="1.49" fill="#b8b0a9" stroke="#1a1a1a" stroke-width="0.9"/>
<line x1="344.60" y1="356.71" x2="350.53" y2="356.71" stroke="#1a1a1a" stroke-width="0.9"/>
<rect x="350.83" y="356.71" width="5.33" height="1.94" fill="#b8b0a9" stroke="#1a1a1a" stroke-width="0.9"/>
<rect x="356.77" y="354.25" width="5.33" height="2.46" fill="#b8b0a9" stroke="#1a1a1a" stroke-width="0.9"/>
<rect x="362.70" y="356.71" width="5.33" height="6.46" fill="#b8b0a9" stroke="#1a1a1a" stroke-width="0.9"/>
<rect x="368.63" y="352.33" width="5.33" height="4.38" fill="#b8b0a9" stroke="#1a1a1a" stroke-width="0.9"/>
<rect x="374.57" y="356.71" width="5.33" height="5.90" fill="#b8b0a9" stroke="#1a1a1a" stroke-width="0.9"/>
<rect x="380.50" y="347.81" width="5.33" height="8.90" fill="#b8b0a9" stroke="#1a1a1a" stroke-width="0.9"/>
<rect x="386.43" y="351.65" width="5.33" height="5.06" fill="#b8b0a9" stroke="#1a1a1a" stroke-width="0.9"/>
<rect x="392.37" y="356.71" width="5.33" height="6.92" fill="#b8b0a9" stroke="#1a1a1a" stroke-width="0.9"/>
<line x1="398.00" y1="356.71" x2="403.93" y2="356.71" stroke="#1a1a1a" stroke-width="0.9"/>
<rect x="404.23" y="353.91" width="5.33" height="2.80" fill="#b8b0a9" stroke="#1a1a1a" stroke-width="0.9"/>
<rect x="410.17" y="351.87" width="5.33" height="4.84" fill="#b8b0a9" stroke="#1a1a1a" stroke-width="0.9"/>
<rect x="416.10" y="355.72" width="5.33" height="0.99" fill="#b8b0a9" stroke="#1a1a1a" stroke-width="0.9"/>
<rect x="422.03" y="351.20" width="5.33" height="5.51" fill="#b8b0a9" stroke="#1a1a1a" stroke-width="0.9"/>
<line x1="427.67" y1="356.71" x2="433.60" y2="356.71" stroke="#1a1a1a" stroke-width="0.9"/>
<rect x="433.90" y="352.78" width="5.33" height="3.93" fill="#b8b0a9" stroke="#1a1a1a" stroke-width="0.9"/>
<rect x="439.83" y="356.71" width="5.33" height="3.53" fill="#b8b0a9" stroke="#1a1a1a" stroke-width="0.9"/>
<rect x="445.77" y="356.71" width="5.33" height="1.04" fill="#b8b0a9" stroke="#1a1a1a" stroke-width="0.9"/>
<rect x="451.70" y="356.71" width="5.33" height="1.04" fill="#b8b0a9" stroke="#1a1a1a" stroke-width="0.9"/>
<rect x="457.63" y="345.32" width="5.33" height="11.39" fill="#b8b0a9" stroke="#1a1a1a" stroke-width="0.9"/>
<rect x="463.57" y="356.71" width="5.33" height="0.81" fill="#b8b0a9" stroke="#1a1a1a" stroke-width="0.9"/>
<rect x="469.50" y="351.20" width="5.33" height="5.51" fill="#b8b0a9" stroke="#1a1a1a" stroke-width="0.9"/>
<rect x="475.43" y="353.23" width="5.33" height="3.48" fill="#b8b0a9" stroke="#1a1a1a" stroke-width="0.9"/>
<rect x="481.37" y="353.91" width="5.33" height="2.80" fill="#b8b0a9" stroke="#1a1a1a" stroke-width="0.9"/>
<text x="286.4" y="359.7" font-size="10" fill="#de1f2c" stroke="#de1f2c" stroke-width="0.3" text-anchor="end">ADRB2</text>
<text x="488.4" y="348.17" font-size="5.8" fill="#2020b8" stroke="#2020b8" stroke-width="0.2">0.97</text>
<text x="487.5" y="367.14" font-size="5.8" fill="#2020b8" stroke="#2020b8" stroke-width="0.2">-0.78</text>
<rect x="291.20" y="369.62" width="195.80" height="22.6" fill="#fff" stroke="#0c0c0c" stroke-width="1"/>
<rect x="291.50" y="379.34" width="5.33" height="3.16" fill="#b8b0a9" stroke="#1a1a1a" stroke-width="0.9"/>
<rect x="297.43" y="381.82" width="5.33" height="0.68" fill="#b8b0a9" stroke="#1a1a1a" stroke-width="0.9"/>
<rect x="303.37" y="379.34" width="5.33" height="3.16" fill="#b8b0a9" stroke="#1a1a1a" stroke-width="0.9"/>
<line x1="309.00" y1="382.50" x2="314.93" y2="382.50" stroke="#1a1a1a" stroke-width="0.9"/>
<rect x="315.23" y="379.34" width="5.33" height="3.16" fill="#b8b0a9" stroke="#1a1a1a" stroke-width="0.9"/>
<rect x="321.17" y="382.50" width="5.33" height="8.36" fill="#b8b0a9" stroke="#1a1a1a" stroke-width="0.9"/>
<rect x="327.10" y="378.21" width="5.33" height="4.29" fill="#b8b0a9" stroke="#1a1a1a" stroke-width="0.9"/>
<rect x="333.03" y="382.50" width="5.33" height="1.81" fill="#b8b0a9" stroke="#1a1a1a" stroke-width="0.9"/>
<rect x="338.97" y="379.34" width="5.33" height="3.16" fill="#b8b0a9" stroke="#1a1a1a" stroke-width="0.9"/>
<rect x="344.90" y="376.63" width="5.33" height="5.88" fill="#b8b0a9" stroke="#1a1a1a" stroke-width="0.9"/>
<rect x="350.83" y="381.37" width="5.33" height="1.13" fill="#b8b0a9" stroke="#1a1a1a" stroke-width="0.9"/>
<rect x="356.77" y="381.37" width="5.33" height="1.13" fill="#b8b0a9" stroke="#1a1a1a" stroke-width="0.9"/>
<rect x="362.70" y="381.82" width="5.33" height="0.68" fill="#b8b0a9" stroke="#1a1a1a" stroke-width="0.9"/>
<rect x="368.63" y="370.98" width="5.33" height="11.53" fill="#b8b0a9" stroke="#1a1a1a" stroke-width="0.9"/>
<rect x="374.57" y="380.92" width="5.33" height="1.58" fill="#b8b0a9" stroke="#1a1a1a" stroke-width="0.9"/>
<line x1="380.20" y1="382.50" x2="386.13" y2="382.50" stroke="#1a1a1a" stroke-width="0.9"/>
<rect x="386.43" y="376.85" width="5.33" height="5.65" fill="#b8b0a9" stroke="#1a1a1a" stroke-width="0.9"/>
<rect x="392.37" y="376.40" width="5.33" height="6.10" fill="#b8b0a9" stroke="#1a1a1a" stroke-width="0.9"/>
<rect x="398.30" y="377.30" width="5.33" height="5.20" fill="#b8b0a9" stroke="#1a1a1a" stroke-width="0.9"/>
<rect x="404.23" y="379.79" width="5.33" height="2.71" fill="#b8b0a9" stroke="#1a1a1a" stroke-width="0.9"/>
<line x1="409.87" y1="382.50" x2="415.80" y2="382.50" stroke="#1a1a1a" stroke-width="0.9"/>
<line x1="415.80" y1="382.50" x2="421.73" y2="382.50" stroke="#1a1a1a" stroke-width="0.9"/>
<rect x="422.03" y="380.92" width="5.33" height="1.58" fill="#b8b0a9" stroke="#1a1a1a" stroke-width="0.9"/>
<rect x="427.97" y="382.50" width="5.33" height="6.10" fill="#b8b0a9" stroke="#1a1a1a" stroke-width="0.9"/>
<rect x="433.90" y="379.34" width="5.33" height="3.16" fill="#b8b0a9" stroke="#1a1a1a" stroke-width="0.9"/>
<rect x="439.83" y="379.34" width="5.33" height="3.16" fill="#b8b0a9" stroke="#1a1a1a" stroke-width="0.9"/>
<rect x="445.77" y="381.37" width="5.33" height="1.13" fill="#b8b0a9" stroke="#1a1a1a" stroke-width="0.9"/>
<rect x="451.70" y="379.34" width="5.33" height="3.16" fill="#b8b0a9" stroke="#1a1a1a" stroke-width="0.9"/>
<line x1="457.33" y1="382.50" x2="463.27" y2="382.50" stroke="#1a1a1a" stroke-width="0.9"/>
<rect x="463.57" y="381.37" width="5.33" height="1.13" fill="#b8b0a9" stroke="#1a1a1a" stroke-width="0.9"/>
<rect x="469.50" y="370.98" width="5.33" height="11.53" fill="#b8b0a9" stroke="#1a1a1a" stroke-width="0.9"/>
<rect x="475.43" y="379.79" width="5.33" height="2.71" fill="#b8b0a9" stroke="#1a1a1a" stroke-width="0.9"/>
<rect x="481.37" y="380.92" width="5.33" height="1.58" fill="#b8b0a9" stroke="#1a1a1a" stroke-width="0.9"/>
<text x="286.7" y="385.5" font-size="10" fill="#de1f2c" stroke="#de1f2c" stroke-width="0.3" text-anchor="end">ANK3</text>
<text x="488.4" y="373.56" font-size="5.8" fill="#2020b8" stroke="#2020b8" stroke-width="0.2">1.42</text>
<text x="487.5" y="392.52" font-size="5.8" fill="#2020b8" stroke="#2020b8" stroke-width="0.2">-1.07</text>
<rect x="291.20" y="395.05" width="195.80" height="22.6" fill="#fff" stroke="#0c0c0c" stroke-width="1"/>
<rect x="291.50" y="405.22" width="5.33" height="2.94" fill="#b8b0a9" stroke="#1a1a1a" stroke-width="0.9"/>
<line x1="297.13" y1="405.22" x2="303.07" y2="405.22" stroke="#1a1a1a" stroke-width="0.9"/>
<rect x="303.37" y="403.86" width="5.33" height="1.36" fill="#b8b0a9" stroke="#1a1a1a" stroke-width="0.9"/>
<rect x="309.30" y="403.86" width="5.33" height="1.36" fill="#b8b0a9" stroke="#1a1a1a" stroke-width="0.9"/>
<line x1="314.93" y1="405.22" x2="320.87" y2="405.22" stroke="#1a1a1a" stroke-width="0.9"/>
<rect x="321.17" y="405.22" width="5.33" height="11.30" fill="#b8b0a9" stroke="#1a1a1a" stroke-width="0.9"/>
<line x1="326.80" y1="405.22" x2="332.73" y2="405.22" stroke="#1a1a1a" stroke-width="0.9"/>
<rect x="333.03" y="405.22" width="5.33" height="2.03" fill="#b8b0a9" stroke="#1a1a1a" stroke-width="0.9"/>
<rect x="338.97" y="403.19" width="5.33" height="2.03" fill="#b8b0a9" stroke="#1a1a1a" stroke-width="0.9"/>
<rect x="344.90" y="399.34" width="5.33" height="5.88" fill="#b8b0a9" stroke="#1a1a1a" stroke-width="0.9"/>
<rect x="350.83" y="403.86" width="5.33" height="1.36" fill="#b8b0a9" stroke="#1a1a1a" stroke-width="0.9"/>
<rect x="356.77" y="405.22" width="5.33" height="2.49" fill="#b8b0a9" stroke="#1a1a1a" stroke-width="0.9"/>
<rect x="362.70" y="405.22" width="5.33" height="0.90" fill="#b8b0a9" stroke="#1a1a1a" stroke-width="0.9"/>
<rect x="368.63" y="395.95" width="5.33" height="9.27" fill="#b8b0a9" stroke="#1a1a1a" stroke-width="0.9"/>
<rect x="374.57" y="403.86" width="5.33" height="1.36" fill="#b8b0a9" stroke="#1a1a1a" stroke-width="0.9"/>
<line x1="380.20" y1="405.22" x2="386.13" y2="405.22" stroke="#1a1a1a" stroke-width="0.9"/>
<line x1="386.13" y1="405.22" x2="392.07" y2="405.22" stroke="#1a1a1a" stroke-width="0.9"/>
<rect x="392.37" y="405.22" width="5.33" height="1.36" fill="#b8b0a9" stroke="#1a1a1a" stroke-width="0.9"/>
<rect x="398.30" y="405.22" width="5.33" height="1.36" fill="#b8b0a9" stroke="#1a1a1a" stroke-width="0.9"/>
<rect x="404.23" y="398.89" width="5.33" height="6.33" fill="#b8b0a9" stroke="#1a1a1a" stroke-width="0.9"/>
<rect x="410.17" y="402.62" width="5.33" height="2.60" fill="#b8b0a9" stroke="#1a1a1a" stroke-width="0.9"/>
<line x1="415.80" y1="405.22" x2="421.73" y2="405.22" stroke="#1a1a1a" stroke-width="0.9"/>
<rect x="422.03" y="403.64" width="5.33" height="1.58" fill="#b8b0a9" stroke="#1a1a1a" stroke-width="0.9"/>
<rect x="427.97" y="405.22" width="5.33" height="3.39" fill="#b8b0a9" stroke="#1a1a1a" stroke-width="0.9"/>
<rect x="433.90" y="401.60" width="5.33" height="3.62" fill="#b8b0a9" stroke="#1a1a1a" stroke-width="0.9"/>
<rect x="439.83" y="405.22" width="5.33" height="0.90" fill="#b8b0a9" stroke="#1a1a1a" stroke-width="0.9"/>
<rect x="445.77" y="403.86" width="5.33" height="1.36" fill="#b8b0a9" stroke="#1a1a1a" stroke-width="0.9"/>
<line x1="451.40" y1="405.22" x2="457.33" y2="405.22" stroke="#1a1a1a" stroke-width="0.9"/>
<line x1="457.33" y1="405.22" x2="463.27" y2="405.22" stroke="#1a1a1a" stroke-width="0.9"/>
<rect x="463.57" y="405.22" width="5.33" height="1.36" fill="#b8b0a9" stroke="#1a1a1a" stroke-width="0.9"/>
<rect x="469.50" y="403.64" width="5.33" height="1.58" fill="#b8b0a9" stroke="#1a1a1a" stroke-width="0.9"/>
<line x1="475.13" y1="405.22" x2="481.07" y2="405.22" stroke="#1a1a1a" stroke-width="0.9"/>
<rect x="481.37" y="405.22" width="5.33" height="3.39" fill="#b8b0a9" stroke="#1a1a1a" stroke-width="0.9"/>
<text x="287.8" y="409.7" font-size="10" fill="#de1f2c" stroke="#de1f2c" stroke-width="0.3" text-anchor="end">EIF2C4</text>
<text x="488.4" y="398.95" font-size="5.8" fill="#2020b8" stroke="#2020b8" stroke-width="0.2">1.19</text>
<text x="487.5" y="417.90" font-size="5.8" fill="#2020b8" stroke="#2020b8" stroke-width="0.2">-1.38</text>
<rect x="291.20" y="420.48" width="195.80" height="22.6" fill="#fff" stroke="#0c0c0c" stroke-width="1"/>
<rect x="291.50" y="432.23" width="5.33" height="10.40" fill="#b8b0a9" stroke="#1a1a1a" stroke-width="0.9"/>
<line x1="297.13" y1="432.23" x2="303.07" y2="432.23" stroke="#1a1a1a" stroke-width="0.9"/>
<line x1="303.07" y1="432.23" x2="309.00" y2="432.23" stroke="#1a1a1a" stroke-width="0.9"/>
<rect x="309.30" y="432.23" width="5.33" height="3.39" fill="#b8b0a9" stroke="#1a1a1a" stroke-width="0.9"/>
<rect x="315.23" y="431.22" width="5.33" height="1.02" fill="#b8b0a9" stroke="#1a1a1a" stroke-width="0.9"/>
<line x1="320.87" y1="432.23" x2="326.80" y2="432.23" stroke="#1a1a1a" stroke-width="0.9"/>
<rect x="327.10" y="432.23" width="5.33" height="0.90" fill="#b8b0a9" stroke="#1a1a1a" stroke-width="0.9"/>
<rect x="333.03" y="430.65" width="5.33" height="1.58" fill="#b8b0a9" stroke="#1a1a1a" stroke-width="0.9"/>
<rect x="338.97" y="432.23" width="5.33" height="4.97" fill="#b8b0a9" stroke="#1a1a1a" stroke-width="0.9"/>
<rect x="344.90" y="432.23" width="5.33" height="2.94" fill="#b8b0a9" stroke="#1a1a1a" stroke-width="0.9"/>
<rect x="350.83" y="432.23" width="5.33" height="2.03" fill="#b8b0a9" stroke="#1a1a1a" stroke-width="0.9"/>
<rect x="356.77" y="432.23" width="5.33" height="0.56" fill="#b8b0a9" stroke="#1a1a1a" stroke-width="0.9"/>
<rect x="362.70" y="430.88" width="5.33" height="1.36" fill="#b8b0a9" stroke="#1a1a1a" stroke-width="0.9"/>
<rect x="368.63" y="432.23" width="5.33" height="5.42" fill="#b8b0a9" stroke="#1a1a1a" stroke-width="0.9"/>
<line x1="374.27" y1="432.23" x2="380.20" y2="432.23" stroke="#1a1a1a" stroke-width="0.9"/>
<rect x="380.50" y="429.52" width="5.33" height="2.71" fill="#b8b0a9" stroke="#1a1a1a" stroke-width="0.9"/>
<line x1="386.13" y1="432.23" x2="392.07" y2="432.23" stroke="#1a1a1a" stroke-width="0.9"/>
<line x1="392.07" y1="432.23" x2="398.00" y2="432.23" stroke="#1a1a1a" stroke-width="0.9"/>
<rect x="398.30" y="432.23" width="5.33" height="2.37" fill="#b8b0a9" stroke="#1a1a1a" stroke-width="0.9"/>
<rect x="404.23" y="430.88" width="5.33" height="1.36" fill="#b8b0a9" stroke="#1a1a1a" stroke-width="0.9"/>
<rect x="410.17" y="432.23" width="5.33" height="0.90" fill="#b8b0a9" stroke="#1a1a1a" stroke-width="0.9"/>
<line x1="415.80" y1="432.23" x2="421.73" y2="432.23" stroke="#1a1a1a" stroke-width="0.9"/>
<line x1="421.73" y1="432.23" x2="427.67" y2="432.23" stroke="#1a1a1a" stroke-width="0.9"/>
<rect x="427.97" y="421.61" width="5.33" height="10.62" fill="#b8b0a9" stroke="#1a1a1a" stroke-width="0.9"/>
<rect x="433.90" y="428.84" width="5.33" height="3.39" fill="#b8b0a9" stroke="#1a1a1a" stroke-width="0.9"/>
<rect x="439.83" y="432.23" width="5.33" height="2.03" fill="#b8b0a9" stroke="#1a1a1a" stroke-width="0.9"/>
<rect x="445.77" y="429.63" width="5.33" height="2.60" fill="#b8b0a9" stroke="#1a1a1a" stroke-width="0.9"/>
<rect x="451.70" y="432.23" width="5.33" height="2.37" fill="#b8b0a9" stroke="#1a1a1a" stroke-width="0.9"/>
<rect x="457.63" y="430.88" width="5.33" height="1.36" fill="#b8b0a9" stroke="#1a1a1a" stroke-width="0.9"/>
<rect x="463.57" y="428.16" width="5.33" height="4.07" fill="#b8b0a9" stroke="#1a1a1a" stroke-width="0.9"/>
<rect x="469.50" y="432.23" width="5.33" height="6.55" fill="#b8b0a9" stroke="#1a1a1a" stroke-width="0.9"/>
<rect x="475.43" y="430.88" width="5.33" height="1.36" fill="#b8b0a9" stroke="#1a1a1a" stroke-width="0.9"/>
<rect x="481.37" y="429.63" width="5.33" height="2.60" fill="#b8b0a9" stroke="#1a1a1a" stroke-width="0.9"/>
<text x="286.5" y="436.7" font-size="10" fill="#de1f2c" stroke="#de1f2c" stroke-width="0.3" text-anchor="end">RASD1</text>
<text x="488.4" y="424.34" font-size="5.8" fill="#2020b8" stroke="#2020b8" stroke-width="0.2">0.73</text>
<text x="487.5" y="443.28" font-size="5.8" fill="#2020b8" stroke="#2020b8" stroke-width="0.2">-0.68</text>
<rect x="291.20" y="445.91" width="195.80" height="22.6" fill="#fff" stroke="#0c0c0c" stroke-width="1"/>
<rect x="291.50" y="450.20" width="5.33" height="4.52" fill="#b8b0a9" stroke="#1a1a1a" stroke-width="0.9"/>
<rect x="297.43" y="454.72" width="5.33" height="0.90" fill="#b8b0a9" stroke="#1a1a1a" stroke-width="0.9"/>
<rect x="303.37" y="450.88" width="5.33" height="3.84" fill="#b8b0a9" stroke="#1a1a1a" stroke-width="0.9"/>
<rect x="309.30" y="454.72" width="5.33" height="1.13" fill="#b8b0a9" stroke="#1a1a1a" stroke-width="0.9"/>
<rect x="315.23" y="452.92" width="5.33" height="1.81" fill="#b8b0a9" stroke="#1a1a1a" stroke-width="0.9"/>
<rect x="321.17" y="454.72" width="5.33" height="2.49" fill="#b8b0a9" stroke="#1a1a1a" stroke-width="0.9"/>
<rect x="327.10" y="449.30" width="5.33" height="5.42" fill="#b8b0a9" stroke="#1a1a1a" stroke-width="0.9"/>
<rect x="333.03" y="454.72" width="5.33" height="1.58" fill="#b8b0a9" stroke="#1a1a1a" stroke-width="0.9"/>
<rect x="338.97" y="446.81" width="5.33" height="7.91" fill="#b8b0a9" stroke="#1a1a1a" stroke-width="0.9"/>
<rect x="344.90" y="454.72" width="5.33" height="1.58" fill="#b8b0a9" stroke="#1a1a1a" stroke-width="0.9"/>
<rect x="350.83" y="454.72" width="5.33" height="3.84" fill="#b8b0a9" stroke="#1a1a1a" stroke-width="0.9"/>
<line x1="356.47" y1="454.72" x2="362.40" y2="454.72" stroke="#1a1a1a" stroke-width="0.9"/>
<rect x="362.70" y="453.82" width="5.33" height="0.90" fill="#b8b0a9" stroke="#1a1a1a" stroke-width="0.9"/>
<rect x="368.63" y="452.24" width="5.33" height="2.49" fill="#b8b0a9" stroke="#1a1a1a" stroke-width="0.9"/>
<line x1="374.27" y1="454.72" x2="380.20" y2="454.72" stroke="#1a1a1a" stroke-width="0.9"/>
<rect x="380.50" y="452.92" width="5.33" height="1.81" fill="#b8b0a9" stroke="#1a1a1a" stroke-width="0.9"/>
<rect x="386.43" y="454.72" width="5.33" height="1.58" fill="#b8b0a9" stroke="#1a1a1a" stroke-width="0.9"/>
<rect x="392.37" y="452.92" width="5.33" height="1.81" fill="#b8b0a9" stroke="#1a1a1a" stroke-width="0.9"/>
<rect x="398.30" y="454.72" width="5.33" height="2.03" fill="#b8b0a9" stroke="#1a1a1a" stroke-width="0.9"/>
<rect x="404.23" y="454.72" width="5.33" height="5.08" fill="#b8b0a9" stroke="#1a1a1a" stroke-width="0.9"/>
<rect x="410.17" y="454.72" width="5.33" height="12.43" fill="#b8b0a9" stroke="#1a1a1a" stroke-width="0.9"/>
<line x1="415.80" y1="454.72" x2="421.73" y2="454.72" stroke="#1a1a1a" stroke-width="0.9"/>
<rect x="422.03" y="453.59" width="5.33" height="1.13" fill="#b8b0a9" stroke="#1a1a1a" stroke-width="0.9"/>
<rect x="427.97" y="449.30" width="5.33" height="5.42" fill="#b8b0a9" stroke="#1a1a1a" stroke-width="0.9"/>
<line x1="433.60" y1="454.72" x2="439.53" y2="454.72" stroke="#1a1a1a" stroke-width="0.9"/>
<rect x="439.83" y="451.79" width="5.33" height="2.94" fill="#b8b0a9" stroke="#1a1a1a" stroke-width="0.9"/>
<line x1="445.47" y1="454.72" x2="451.40" y2="454.72" stroke="#1a1a1a" stroke-width="0.9"/>
<rect x="451.70" y="454.72" width="5.33" height="4.52" fill="#b8b0a9" stroke="#1a1a1a" stroke-width="0.9"/>
<rect x="457.63" y="454.72" width="5.33" height="11.98" fill="#b8b0a9" stroke="#1a1a1a" stroke-width="0.9"/>
<rect x="463.57" y="450.88" width="5.33" height="3.84" fill="#b8b0a9" stroke="#1a1a1a" stroke-width="0.9"/>
<rect x="469.50" y="453.82" width="5.33" height="0.90" fill="#b8b0a9" stroke="#1a1a1a" stroke-width="0.9"/>
<rect x="475.43" y="454.72" width="5.33" height="0.90" fill="#b8b0a9" stroke="#1a1a1a" stroke-width="0.9"/>
<rect x="481.37" y="452.92" width="5.33" height="1.81" fill="#b8b0a9" stroke="#1a1a1a" stroke-width="0.9"/>
<text x="286.7" y="458.5" font-size="10" fill="#de1f2c" stroke="#de1f2c" stroke-width="0.3" text-anchor="end">NOTCH2</text>
<text x="488.4" y="449.73" font-size="5.8" fill="#2020b8" stroke="#2020b8" stroke-width="0.2">0.73</text>
<text x="487.5" y="468.66" font-size="5.8" fill="#2020b8" stroke="#2020b8" stroke-width="0.2">-1.14</text>
<rect x="291.20" y="471.34" width="195.80" height="22.6" fill="#fff" stroke="#0c0c0c" stroke-width="1"/>
<rect x="291.50" y="472.24" width="5.33" height="7.01" fill="#b8b0a9" stroke="#1a1a1a" stroke-width="0.9"/>
<line x1="297.13" y1="479.25" x2="303.07" y2="479.25" stroke="#1a1a1a" stroke-width="0.9"/>
<line x1="303.07" y1="479.25" x2="309.00" y2="479.25" stroke="#1a1a1a" stroke-width="0.9"/>
<rect x="309.30" y="479.25" width="5.33" height="0.56" fill="#b8b0a9" stroke="#1a1a1a" stroke-width="0.9"/>
<rect x="315.23" y="477.67" width="5.33" height="1.58" fill="#b8b0a9" stroke="#1a1a1a" stroke-width="0.9"/>
<rect x="321.17" y="479.25" width="5.33" height="13.33" fill="#b8b0a9" stroke="#1a1a1a" stroke-width="0.9"/>
<rect x="327.10" y="479.25" width="5.33" height="2.94" fill="#b8b0a9" stroke="#1a1a1a" stroke-width="0.9"/>
<rect x="333.03" y="474.28" width="5.33" height="4.97" fill="#b8b0a9" stroke="#1a1a1a" stroke-width="0.9"/>
<rect x="338.97" y="472.24" width="5.33" height="7.01" fill="#b8b0a9" stroke="#1a1a1a" stroke-width="0.9"/>
<rect x="344.90" y="479.25" width="5.33" height="5.42" fill="#b8b0a9" stroke="#1a1a1a" stroke-width="0.9"/>
<rect x="350.83" y="478.12" width="5.33" height="1.13" fill="#b8b0a9" stroke="#1a1a1a" stroke-width="0.9"/>
<line x1="356.47" y1="479.25" x2="362.40" y2="479.25" stroke="#1a1a1a" stroke-width="0.9"/>
<rect x="362.70" y="479.25" width="5.33" height="0.90" fill="#b8b0a9" stroke="#1a1a1a" stroke-width="0.9"/>
<line x1="368.33" y1="479.25" x2="374.27" y2="479.25" stroke="#1a1a1a" stroke-width="0.9"/>
<rect x="374.57" y="479.25" width="5.33" height="7.01" fill="#b8b0a9" stroke="#1a1a1a" stroke-width="0.9"/>
<rect x="380.50" y="479.25" width="5.33" height="8.93" fill="#b8b0a9" stroke="#1a1a1a" stroke-width="0.9"/>
<rect x="386.43" y="479.25" width="5.33" height="13.33" fill="#b8b0a9" stroke="#1a1a1a" stroke-width="0.9"/>
<rect x="392.37" y="479.25" width="5.33" height="3.95" fill="#b8b0a9" stroke="#1a1a1a" stroke-width="0.9"/>
<rect x="398.30" y="479.25" width="5.33" height="7.91" fill="#b8b0a9" stroke="#1a1a1a" stroke-width="0.9"/>
<rect x="404.23" y="479.25" width="5.33" height="7.01" fill="#b8b0a9" stroke="#1a1a1a" stroke-width="0.9"/>
<rect x="410.17" y="479.25" width="5.33" height="7.01" fill="#b8b0a9" stroke="#1a1a1a" stroke-width="0.9"/>
<line x1="415.80" y1="479.25" x2="421.73" y2="479.25" stroke="#1a1a1a" stroke-width="0.9"/>
<rect x="422.03" y="479.25" width="5.33" height="5.88" fill="#b8b0a9" stroke="#1a1a1a" stroke-width="0.9"/>
<rect x="427.97" y="479.25" width="5.33" height="5.42" fill="#b8b0a9" stroke="#1a1a1a" stroke-width="0.9"/>
<line x1="433.60" y1="479.25" x2="439.53" y2="479.25" stroke="#1a1a1a" stroke-width="0.9"/>
<line x1="439.53" y1="479.25" x2="445.47" y2="479.25" stroke="#1a1a1a" stroke-width="0.9"/>
<rect x="445.77" y="479.25" width="5.33" height="2.94" fill="#b8b0a9" stroke="#1a1a1a" stroke-width="0.9"/>
<rect x="451.70" y="479.25" width="5.33" height="1.92" fill="#b8b0a9" stroke="#1a1a1a" stroke-width="0.9"/>
<rect x="457.63" y="478.12" width="5.33" height="1.13" fill="#b8b0a9" stroke="#1a1a1a" stroke-width="0.9"/>
<rect x="463.57" y="478.12" width="5.33" height="1.13" fill="#b8b0a9" stroke="#1a1a1a" stroke-width="0.9"/>
<rect x="469.50" y="479.25" width="5.33" height="11.98" fill="#b8b0a9" stroke="#1a1a1a" stroke-width="0.9"/>
<rect x="475.43" y="473.83" width="5.33" height="5.42" fill="#b8b0a9" stroke="#1a1a1a" stroke-width="0.9"/>
<rect x="481.37" y="479.25" width="5.33" height="7.01" fill="#b8b0a9" stroke="#1a1a1a" stroke-width="0.9"/>
<text x="286.2" y="485.3" font-size="10" fill="#de1f2c" stroke="#de1f2c" stroke-width="0.3" text-anchor="end">CD44</text>
<text x="488.4" y="475.12" font-size="5.8" fill="#2020b8" stroke="#2020b8" stroke-width="0.2">1.04</text>
<text x="487.5" y="494.04" font-size="5.8" fill="#2020b8" stroke="#2020b8" stroke-width="0.2">-1.92</text>
<line x1="506" y1="13" x2="506" y2="493.5" stroke="#5a5ac8" stroke-width="1"/>
<text transform="translate(510.8,187.5) rotate(90)" font-size="12.4" fill="#2424cc" stroke="#2424cc" stroke-width="0.25">Raw expression values</text>
</svg>
</body></html>
